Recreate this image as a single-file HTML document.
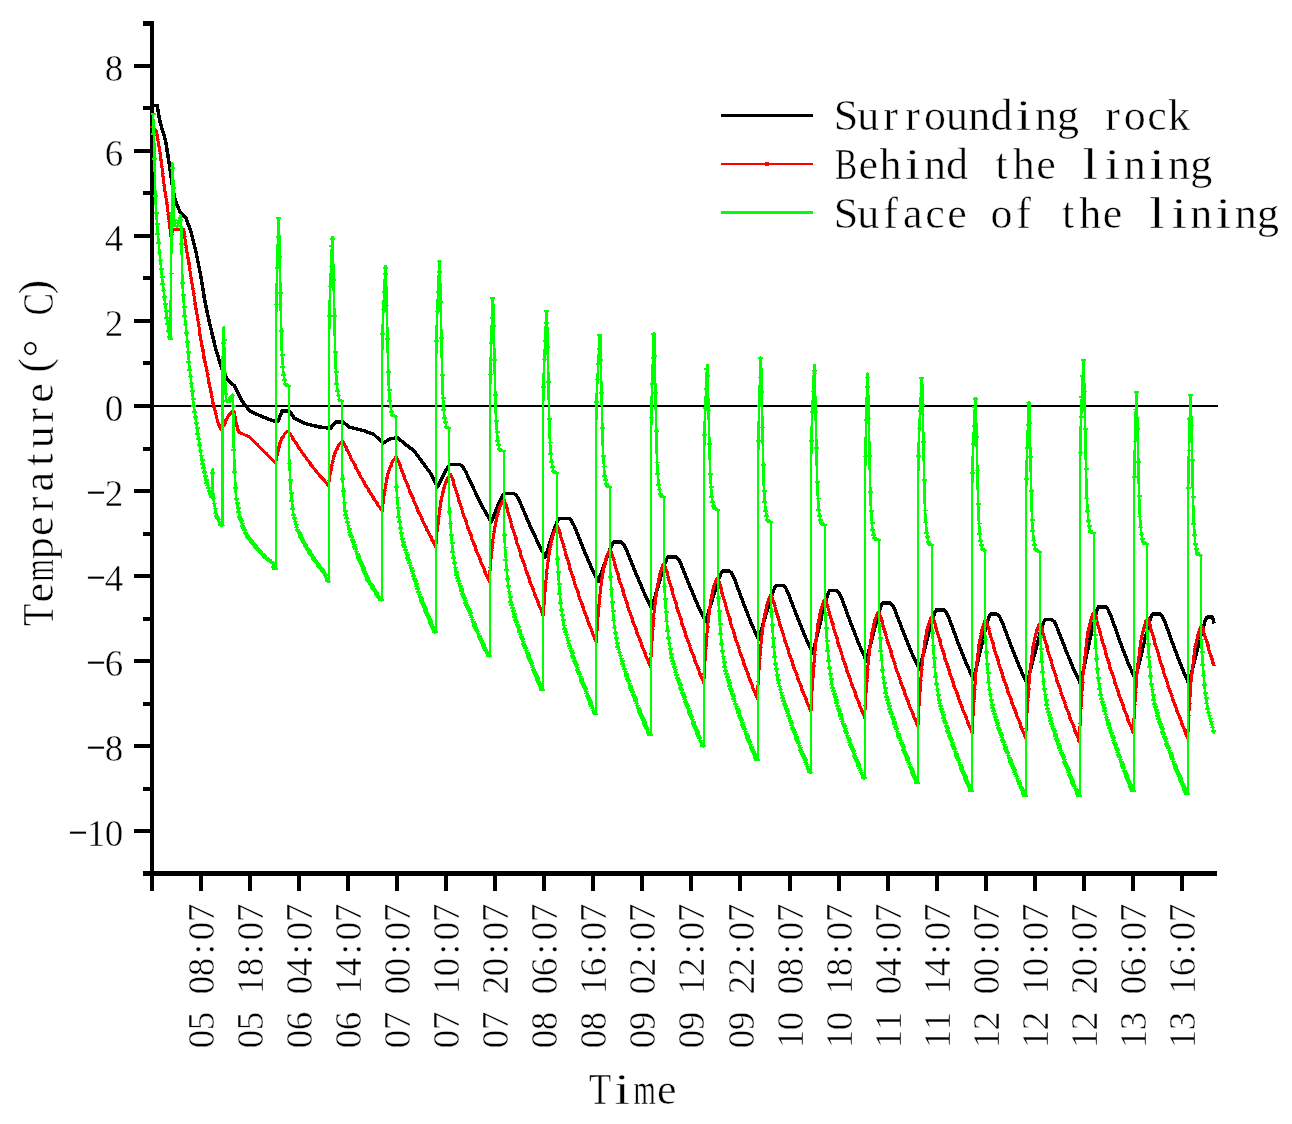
<!DOCTYPE html>
<html><head><meta charset="utf-8"><title>Temperature</title>
<style>html,body{margin:0;padding:0;background:#fff}svg{display:block}text{font-family:"Liberation Serif", serif;fill:#000;stroke:#fff;stroke-width:0.45px}</style></head><body>
<svg width="1292" height="1124" viewBox="0 0 1292 1124">
<rect width="1292" height="1124" fill="#fff"/>
<g shape-rendering="crispEdges">
<rect x="150" y="21" width="4" height="855" fill="#000"/>
<rect x="143" y="871" width="1074" height="5" fill="#000"/>
<rect x="143" y="872" width="8" height="4" fill="#000"/>
<rect x="134" y="829.0" width="17" height="4" fill="#000"/>
<rect x="143" y="787" width="8" height="4" fill="#000"/>
<rect x="134" y="744.0" width="17" height="4" fill="#000"/>
<rect x="143" y="702" width="8" height="4" fill="#000"/>
<rect x="134" y="659.0" width="17" height="4" fill="#000"/>
<rect x="143" y="617" width="8" height="4" fill="#000"/>
<rect x="134" y="574.0" width="17" height="4" fill="#000"/>
<rect x="143" y="532" width="8" height="4" fill="#000"/>
<rect x="134" y="489.0" width="17" height="4" fill="#000"/>
<rect x="143" y="447" width="8" height="4" fill="#000"/>
<rect x="134" y="404.0" width="17" height="4" fill="#000"/>
<rect x="143" y="361" width="8" height="4" fill="#000"/>
<rect x="134" y="319.0" width="17" height="4" fill="#000"/>
<rect x="143" y="276" width="8" height="4" fill="#000"/>
<rect x="134" y="234.0" width="17" height="4" fill="#000"/>
<rect x="143" y="191" width="8" height="4" fill="#000"/>
<rect x="134" y="149.0" width="17" height="4" fill="#000"/>
<rect x="143" y="106" width="8" height="4" fill="#000"/>
<rect x="134" y="64.0" width="17" height="4" fill="#000"/>
<rect x="143" y="21" width="8" height="5" fill="#000"/>
<rect x="150" y="874" width="4" height="17" fill="#000"/>
<rect x="199" y="874" width="4" height="17" fill="#000"/>
<rect x="248" y="874" width="4" height="17" fill="#000"/>
<rect x="297" y="874" width="4" height="17" fill="#000"/>
<rect x="346" y="874" width="4" height="17" fill="#000"/>
<rect x="395" y="874" width="4" height="17" fill="#000"/>
<rect x="444" y="874" width="4" height="17" fill="#000"/>
<rect x="493" y="874" width="4" height="17" fill="#000"/>
<rect x="542" y="874" width="4" height="17" fill="#000"/>
<rect x="591" y="874" width="4" height="17" fill="#000"/>
<rect x="640" y="874" width="4" height="17" fill="#000"/>
<rect x="689" y="874" width="4" height="17" fill="#000"/>
<rect x="738" y="874" width="4" height="17" fill="#000"/>
<rect x="788" y="874" width="4" height="17" fill="#000"/>
<rect x="837" y="874" width="4" height="17" fill="#000"/>
<rect x="886" y="874" width="4" height="17" fill="#000"/>
<rect x="935" y="874" width="4" height="17" fill="#000"/>
<rect x="984" y="874" width="4" height="17" fill="#000"/>
<rect x="1033" y="874" width="4" height="17" fill="#000"/>
<rect x="1082" y="874" width="4" height="17" fill="#000"/>
<rect x="1131" y="874" width="4" height="17" fill="#000"/>
<rect x="1180" y="874" width="4" height="17" fill="#000"/>
<rect x="154" y="405" width="1064" height="2" fill="#000"/>
<polyline fill="none" stroke="#000" stroke-width="3.5" stroke-linejoin="round" points="154.0,105.4 157.2,105.4 160.0,122.0 165.4,140.0 169.4,164.7 173.0,189.6 175.0,199.6 180.0,212.0 186.0,218.0 191.0,232.0 196.0,252.0 201.0,277.0 205.0,302.0 210.0,325.0 216.0,350.0 222.2,369.8 227.2,379.7 234.7,386.0 242.0,401.0 249.6,411.0 262.0,416.6 274.5,421.3 278.2,421.3 282.0,411.0 289.4,411.0 294.4,418.3 304.4,423.3 319.3,427.0 330.5,428.3 335.5,422.0 343.0,422.0 349.2,427.0 364.0,430.8 374.0,434.5 382.8,443.2 390.3,438.8 397.8,437.8 404.0,443.2 414.0,450.7 424.0,464.4 431.4,474.4 437.3,487.0 441.1,479.6 444.9,472.2 447.5,467.7 449.0,465.5 450.0,464.6 460.0,464.6 462.5,466.3 465.6,471.5 469.4,479.6 475.6,492.8 483.4,508.4 491.2,522.2 495.0,512.8 498.9,503.3 501.4,497.6 503.0,494.7 504.0,493.6 514.0,493.6 516.5,495.5 519.6,501.2 523.4,510.1 529.6,524.7 537.5,541.8 545.3,557.0 549.4,544.3 553.5,531.6 556.3,523.9 557.9,520.0 559.0,518.5 569.0,518.5 571.3,520.4 574.3,526.1 577.8,534.9 583.6,549.4 590.9,566.4 598.2,581.5 602.9,568.5 607.7,555.4 610.8,547.5 612.7,543.6 614.0,542.0 621.0,542.0 623.5,544.0 626.5,550.0 630.2,559.3 636.4,574.5 644.0,592.5 651.7,608.4 656.6,591.4 661.5,574.4 664.7,564.1 666.7,559.0 668.0,556.9 675.9,556.9 678.3,558.8 681.3,564.7 684.8,573.7 690.8,588.6 698.2,606.1 705.7,621.6 710.7,604.9 715.8,588.2 719.1,578.1 721.2,573.0 722.5,571.0 729.4,571.0 731.7,573.1 734.6,579.2 738.1,588.8 744.0,604.6 751.2,623.1 758.5,639.6 763.8,621.7 769.1,603.8 772.7,592.9 774.8,587.5 776.2,585.3 783.0,585.3 785.4,587.3 788.4,593.5 791.9,603.0 797.9,618.6 805.3,637.0 812.8,653.3 817.8,632.6 822.8,611.9 826.2,599.3 828.2,593.0 829.5,590.5 836.5,590.5 838.9,592.6 841.9,598.9 845.5,608.8 851.5,624.9 858.9,643.9 866.4,660.8 871.2,641.7 876.1,622.7 879.3,611.1 881.2,605.3 882.5,603.0 890.0,603.0 892.4,605.0 895.3,611.0 898.8,620.3 904.7,635.6 912.0,653.5 919.4,669.5 924.5,649.8 929.6,630.1 933.0,618.2 935.0,612.2 936.4,609.8 943.6,609.8 946.0,611.9 949.0,618.2 952.6,627.9 958.5,644.0 966.0,662.8 973.5,679.5 978.6,658.0 983.6,636.4 987.0,623.3 989.0,616.8 990.4,614.2 997.0,614.2 999.4,616.3 1002.4,622.5 1006.0,632.3 1012.0,648.3 1019.5,667.0 1027.0,683.7 1032.4,662.6 1037.8,641.5 1041.4,628.7 1043.6,622.3 1045.0,619.7 1051.9,619.7 1054.2,621.6 1057.0,627.4 1060.5,636.3 1066.2,651.1 1073.3,668.3 1080.5,683.7 1085.9,658.3 1091.3,632.9 1094.9,617.6 1097.1,609.9 1098.5,606.8 1105.4,606.8 1107.8,609.0 1110.8,615.5 1114.4,625.7 1120.3,642.4 1127.8,662.1 1135.3,679.5 1140.5,657.9 1145.6,636.3 1149.1,623.2 1151.1,616.6 1152.5,614.0 1160.0,614.0 1162.3,616.1 1165.2,622.4 1168.6,632.1 1174.4,648.2 1181.6,667.0 1188.8,683.7 1194.3,661.8 1199.7,639.8 1203.4,626.5 1205.5,619.9 1207.0,617.2 1212.5,617.2 1214.2,623.5"/>
<polyline fill="none" stroke="#f00" stroke-width="3" stroke-linejoin="round" points="152.0,127.0 156.0,130.0 160.0,152.0 163.7,182.0 167.4,207.0 169.5,224.0 171.0,237.0 172.2,232.0 173.7,229.5 183.6,229.5 187.0,252.0 191.0,277.0 195.0,302.0 198.5,324.0 202.0,346.6 206.0,366.5 212.3,399.7 217.2,419.6 219.5,426.5 221.0,429.5 222.2,428.5 224.7,423.3 228.4,415.8 231.0,412.3 233.4,410.9 234.6,414.0 236.0,422.0 238.4,432.0 249.6,437.0 259.6,447.0 269.5,457.0 275.7,463.2 276.7,456.8 278.8,446.9 281.9,438.0 285.1,433.5 286.9,431.8 288.2,431.3 291.6,436.1 294.9,441.6 298.3,446.7 301.7,451.7 305.0,456.5 308.4,461.2 311.8,465.6 315.1,469.9 318.5,473.9 321.9,477.9 325.2,481.8 328.6,485.6 329.7,476.7 332.2,463.0 335.7,450.6 339.2,444.4 341.4,442.0 342.8,441.3 346.1,447.5 349.4,454.5 352.6,461.2 355.9,467.6 359.2,473.8 362.5,479.7 365.8,485.4 369.1,490.9 372.4,496.2 375.6,501.3 378.9,506.3 382.2,511.2 383.4,500.4 385.8,483.6 389.4,468.4 393.0,460.8 395.2,457.8 396.6,457.0 399.9,465.0 403.1,474.0 406.4,482.5 409.7,490.8 412.9,498.7 416.2,506.4 419.5,513.7 422.7,520.8 426.0,527.5 429.3,534.1 432.5,540.5 435.8,546.8 437.0,532.3 439.6,509.9 443.3,489.6 447.1,479.5 449.3,475.5 450.8,474.4 454.0,483.9 457.2,494.6 460.4,504.9 463.6,514.7 466.8,524.2 470.0,533.3 473.2,542.0 476.4,550.4 479.6,558.5 482.8,566.3 486.0,574.0 489.2,581.5 490.4,565.2 492.9,539.8 496.7,517.0 500.4,505.5 502.7,501.0 504.2,499.8 507.5,510.1 510.7,521.7 514.0,532.7 517.2,543.4 520.5,553.6 523.8,563.5 527.0,572.9 530.3,582.0 533.5,590.7 536.8,599.2 540.0,607.4 543.3,615.6 544.5,597.7 546.9,569.9 550.5,544.8 554.1,532.3 556.3,527.3 557.7,526.0 560.9,536.4 564.1,548.0 567.4,559.1 570.6,569.8 573.8,580.2 577.0,590.1 580.2,599.6 583.4,608.7 586.6,617.5 589.9,626.0 593.1,634.3 596.3,642.5 597.4,623.9 599.8,595.2 603.3,569.2 606.9,556.2 609.0,551.1 610.4,549.7 613.7,560.1 617.1,571.9 620.4,583.1 623.8,593.8 627.1,604.2 630.5,614.2 633.8,623.8 637.1,633.0 640.5,641.8 643.8,650.4 647.2,658.7 650.5,667.0 651.6,646.3 653.9,614.3 657.4,585.3 660.8,570.8 662.8,565.2 664.2,563.6 667.5,574.2 670.8,586.2 674.1,597.6 677.4,608.6 680.7,619.2 684.0,629.4 687.3,639.1 690.6,648.5 693.9,657.5 697.2,666.3 700.5,674.8 703.8,683.2 704.9,662.1 707.3,629.4 710.8,599.9 714.2,585.2 716.3,579.4 717.7,577.8 721.0,588.6 724.3,600.7 727.6,612.2 730.9,623.4 734.2,634.1 737.5,644.4 740.8,654.3 744.1,663.8 747.4,672.9 750.7,681.7 754.0,690.4 757.3,698.9 758.4,678.1 760.8,645.8 764.2,616.6 767.7,602.0 769.8,596.3 771.2,594.7 774.5,605.1 777.8,616.8 781.2,628.0 784.5,638.8 787.8,649.1 791.1,659.1 794.4,668.7 797.7,677.8 801.0,686.7 804.4,695.2 807.7,703.6 811.0,711.8 812.1,689.3 814.6,654.4 818.1,622.8 821.7,607.1 823.9,600.9 825.3,599.2 828.6,609.7 831.8,621.6 835.1,632.9 838.4,643.8 841.7,654.2 845.0,664.3 848.2,674.0 851.5,683.3 854.8,692.2 858.0,700.8 861.3,709.3 864.6,717.6 865.7,696.4 868.1,663.6 871.7,633.9 875.2,619.1 877.4,613.3 878.8,611.7 882.1,621.9 885.3,633.4 888.6,644.4 891.8,655.0 895.1,665.2 898.3,675.0 901.6,684.4 904.9,693.4 908.1,702.1 911.4,710.5 914.6,718.7 917.9,726.8 919.1,704.6 921.5,670.3 925.1,639.3 928.8,623.8 930.9,617.7 932.4,616.0 935.7,626.4 939.0,638.1 942.4,649.3 945.7,660.0 949.0,670.4 952.3,680.3 955.6,689.9 958.9,699.1 962.2,707.9 965.6,716.4 968.9,724.8 972.2,733.0 973.3,710.4 975.6,675.5 979.0,643.9 982.5,628.1 984.5,621.9 985.9,620.2 989.2,630.7 992.5,642.5 995.9,653.7 999.2,664.5 1002.5,675.0 1005.8,685.0 1009.1,694.6 1012.4,703.8 1015.8,712.7 1019.1,721.3 1022.4,729.7 1025.7,738.0 1026.8,715.1 1029.3,679.6 1032.8,647.5 1036.4,631.5 1038.6,625.2 1040.0,623.5 1043.3,634.0 1046.5,645.8 1049.8,657.0 1053.1,667.8 1056.4,678.3 1059.7,688.3 1062.9,697.9 1066.2,707.1 1069.5,716.0 1072.8,724.6 1076.0,733.0 1079.3,741.3 1080.5,715.5 1083.0,675.5 1086.8,639.3 1090.5,621.2 1092.7,614.1 1094.2,612.2 1097.5,622.9 1100.7,635.0 1104.0,646.6 1107.2,657.7 1110.5,668.4 1113.8,678.6 1117.0,688.5 1120.3,698.0 1123.5,707.1 1126.8,715.9 1130.0,724.5 1133.3,733.0 1134.5,710.1 1136.9,674.6 1140.5,642.5 1144.2,626.5 1146.3,620.2 1147.8,618.5 1151.1,629.1 1154.4,641.1 1157.8,652.5 1161.1,663.5 1164.4,674.0 1167.7,684.2 1171.0,694.0 1174.3,703.3 1177.6,712.3 1181.0,721.1 1184.3,729.6 1187.6,738.0 1188.7,715.6 1191.1,680.9 1194.7,649.5 1198.2,633.8 1200.4,627.7 1201.8,626.0 1205.1,636.2 1208.3,647.6 1211.6,658.6 1214.2,665.8"/>
<path fill="none" stroke="#f00" stroke-width="1.2" d="M150.1,127.0h3.8M150.9,127.6h3.8M151.7,128.2h3.8M152.6,128.8h3.8M153.4,129.5h3.8M154.2,130.5h3.8M155.0,135.0h3.8M155.8,139.5h3.8M156.6,143.9h3.8M157.5,148.4h3.8M158.3,153.4h3.8M159.1,160.0h3.8M159.9,166.6h3.8M160.7,173.3h3.8M161.5,179.9h3.8M162.4,185.8h3.8M163.2,191.3h3.8M164.0,196.8h3.8M164.8,202.3h3.8M165.6,208.0h3.8M166.4,214.6h3.8M167.3,221.2h3.8M168.1,228.1h3.8M168.9,235.2h3.8M169.7,234.5h3.8M170.5,231.6h3.8M171.3,230.3h3.8M172.2,229.5h3.8M173.0,229.5h3.8M173.8,229.5h3.8M174.6,229.5h3.8M175.4,229.5h3.8M176.2,229.5h3.8M177.1,229.5h3.8M177.9,229.5h3.8M178.7,229.5h3.8M179.5,229.5h3.8M180.3,229.5h3.8M181.1,229.5h3.8M182.0,231.2h3.8M182.8,236.6h3.8M183.6,242.1h3.8M184.4,247.5h3.8M185.2,252.8h3.8M186.0,257.9h3.8M186.9,263.0h3.8M187.7,268.1h3.8M188.5,273.2h3.8M189.3,278.4h3.8M190.1,283.5h3.8M191.0,288.6h3.8M191.8,293.7h3.8M192.6,298.8h3.8M193.4,303.9h3.8M194.2,309.0h3.8M195.0,314.2h3.8M195.9,319.3h3.8M196.7,324.4h3.8M197.5,329.7h3.8M198.3,335.0h3.8M199.1,340.3h3.8M199.9,345.5h3.8M200.8,349.9h3.8M201.6,353.9h3.8M202.4,358.0h3.8M203.2,362.0h3.8M204.0,366.1h3.8M204.8,370.4h3.8M205.7,374.7h3.8M206.5,379.0h3.8M207.3,383.3h3.8M208.1,387.6h3.8M208.9,391.9h3.8M209.7,396.2h3.8M210.6,400.3h3.8M211.4,403.7h3.8M212.2,407.0h3.8M213.0,410.3h3.8M213.8,413.6h3.8M214.6,416.9h3.8M215.5,420.1h3.8M216.3,422.5h3.8M217.1,425.0h3.8M217.9,427.1h3.8M218.7,428.8h3.8M219.5,429.1h3.8M220.4,428.4h3.8M221.2,426.7h3.8M222.0,425.0h3.8M222.8,423.3h3.8M223.6,421.6h3.8M224.4,420.0h3.8M225.3,418.3h3.8M226.1,416.6h3.8M226.9,415.3h3.8M227.7,414.2h3.8M228.5,413.1h3.8M229.3,412.2h3.8M230.2,411.7h3.8M231.0,411.2h3.8M231.8,411.7h3.8M232.6,413.8h3.8M233.4,418.2h3.8M234.3,422.6h3.8M235.1,426.0h3.8M235.9,429.4h3.8M236.7,432.1h3.8M237.5,432.5h3.8M238.3,432.8h3.8M239.2,433.2h3.8M240.0,433.5h3.8M240.8,433.9h3.8M241.6,434.3h3.8M242.4,434.6h3.8M243.2,435.0h3.8M244.1,435.4h3.8M244.9,435.7h3.8M245.7,436.1h3.8M246.5,436.5h3.8M247.3,436.8h3.8M248.1,437.4h3.8M249.0,438.3h3.8M249.8,439.1h3.8M250.6,439.9h3.8M251.4,440.7h3.8M252.2,441.5h3.8M253.0,442.3h3.8M253.9,443.2h3.8M254.7,444.0h3.8M255.5,444.8h3.8M256.3,445.6h3.8M257.1,446.4h3.8M257.9,447.2h3.8M258.8,448.1h3.8M259.6,448.9h3.8M260.4,449.7h3.8M261.2,450.5h3.8M262.0,451.4h3.8M262.8,452.2h3.8M263.7,453.0h3.8M264.5,453.8h3.8M265.3,454.7h3.8M266.1,455.5h3.8M266.9,456.3h3.8M267.7,457.1h3.8M268.6,458.0h3.8M269.4,458.8h3.8M270.2,459.6h3.8M271.0,460.4h3.8M271.8,461.2h3.8M272.7,462.1h3.8M273.5,462.9h3.8M274.3,460.1h3.8M275.1,455.4h3.8M275.9,451.6h3.8M276.7,447.8h3.8M277.6,445.1h3.8M278.4,442.8h3.8M279.2,440.5h3.8M280.0,438.1h3.8M280.8,436.9h3.8M281.6,435.7h3.8M282.5,434.6h3.8M283.3,433.4h3.8M284.1,432.7h3.8M284.9,431.9h3.8M285.7,431.5h3.8M286.5,431.6h3.8M287.4,432.8h3.8M288.2,434.0h3.8M289.0,435.2h3.8M289.8,436.4h3.8M290.6,437.7h3.8M291.4,439.0h3.8M292.3,440.3h3.8M293.1,441.6h3.8M293.9,442.9h3.8M294.7,444.1h3.8M295.5,445.4h3.8M296.3,446.7h3.8M297.2,447.9h3.8M298.0,449.1h3.8M298.8,450.3h3.8M299.6,451.5h3.8M300.4,452.7h3.8M301.2,453.8h3.8M302.1,455.0h3.8M302.9,456.2h3.8M303.7,457.3h3.8M304.5,458.4h3.8M305.3,459.6h3.8M306.1,460.7h3.8M307.0,461.8h3.8M307.8,462.8h3.8M308.6,463.9h3.8M309.4,465.0h3.8M310.2,466.1h3.8M311.0,467.1h3.8M311.9,468.1h3.8M312.7,469.2h3.8M313.5,470.2h3.8M314.3,471.2h3.8M315.1,472.2h3.8M316.0,473.2h3.8M316.8,474.1h3.8M317.6,475.1h3.8M318.4,476.1h3.8M319.2,477.0h3.8M320.0,478.0h3.8M320.9,478.9h3.8M321.7,479.9h3.8M322.5,480.8h3.8M323.3,481.7h3.8M324.1,482.7h3.8M324.9,483.6h3.8M325.8,484.5h3.8M326.6,485.5h3.8M327.4,480.2h3.8M328.2,474.6h3.8M329.0,470.0h3.8M329.8,465.3h3.8M330.7,461.6h3.8M331.5,458.7h3.8M332.3,455.9h3.8M333.1,453.0h3.8M333.9,450.4h3.8M334.7,449.0h3.8M335.6,447.5h3.8M336.4,446.1h3.8M337.2,444.7h3.8M338.0,443.6h3.8M338.8,442.7h3.8M339.6,441.9h3.8M340.5,441.5h3.8M341.3,442.0h3.8M342.1,443.6h3.8M342.9,445.1h3.8M343.7,446.7h3.8M344.5,448.3h3.8M345.4,450.0h3.8M346.2,451.8h3.8M347.0,453.5h3.8M347.8,455.2h3.8M348.6,456.9h3.8M349.4,458.5h3.8M350.3,460.2h3.8M351.1,461.8h3.8M351.9,463.4h3.8M352.7,465.0h3.8M353.5,466.6h3.8M354.4,468.2h3.8M355.2,469.7h3.8M356.0,471.3h3.8M356.8,472.8h3.8M357.6,474.3h3.8M358.4,475.8h3.8M359.3,477.3h3.8M360.1,478.8h3.8M360.9,480.2h3.8M361.7,481.7h3.8M362.5,483.1h3.8M363.3,484.5h3.8M364.2,485.9h3.8M365.0,487.3h3.8M365.8,488.6h3.8M366.6,490.0h3.8M367.4,491.3h3.8M368.2,492.6h3.8M369.1,494.0h3.8M369.9,495.3h3.8M370.7,496.6h3.8M371.5,497.8h3.8M372.3,499.1h3.8M373.1,500.4h3.8M374.0,501.6h3.8M374.8,502.9h3.8M375.6,504.1h3.8M376.4,505.4h3.8M377.2,506.6h3.8M378.0,507.8h3.8M378.9,509.0h3.8M379.7,510.3h3.8M380.5,509.4h3.8M381.3,501.7h3.8M382.1,495.7h3.8M382.9,490.1h3.8M383.8,484.5h3.8M384.6,480.7h3.8M385.4,477.3h3.8M386.2,473.8h3.8M387.0,470.4h3.8M387.8,467.7h3.8M388.7,465.9h3.8M389.5,464.2h3.8M390.3,462.5h3.8M391.1,460.8h3.8M391.9,459.6h3.8M392.7,458.5h3.8M393.6,457.6h3.8M394.4,457.2h3.8M395.2,458.2h3.8M396.0,460.2h3.8M396.8,462.2h3.8M397.7,464.2h3.8M398.5,466.4h3.8M399.3,468.6h3.8M400.1,470.9h3.8M400.9,473.1h3.8M401.7,475.3h3.8M402.6,477.4h3.8M403.4,479.6h3.8M404.2,481.7h3.8M405.0,483.8h3.8M405.8,485.9h3.8M406.6,487.9h3.8M407.5,490.0h3.8M408.3,492.0h3.8M409.1,494.0h3.8M409.9,496.0h3.8M410.7,498.0h3.8M411.5,499.9h3.8M412.4,501.8h3.8M413.2,503.8h3.8M414.0,505.7h3.8M414.8,507.5h3.8M415.6,509.4h3.8M416.4,511.2h3.8M417.3,513.0h3.8M418.1,514.8h3.8M418.9,516.6h3.8M419.7,518.3h3.8M420.5,520.1h3.8M421.3,521.8h3.8M422.2,523.5h3.8M423.0,525.2h3.8M423.8,526.9h3.8M424.6,528.6h3.8M425.4,530.2h3.8M426.2,531.8h3.8M427.1,533.5h3.8M427.9,535.1h3.8M428.7,536.7h3.8M429.5,538.3h3.8M430.3,539.9h3.8M431.1,541.5h3.8M432.0,543.1h3.8M432.8,544.6h3.8M433.6,546.2h3.8M434.4,540.6h3.8M435.2,531.1h3.8M436.1,524.0h3.8M436.9,516.8h3.8M437.7,509.7h3.8M438.5,505.3h3.8M439.3,500.9h3.8M440.1,496.4h3.8M441.0,492.0h3.8M441.8,488.6h3.8M442.6,486.4h3.8M443.4,484.2h3.8M444.2,482.0h3.8M445.0,479.8h3.8M445.9,478.2h3.8M446.7,476.8h3.8M447.5,475.4h3.8M448.3,474.8h3.8M449.1,475.1h3.8M449.9,477.5h3.8M450.8,479.9h3.8M451.6,482.4h3.8M452.4,484.9h3.8M453.2,487.6h3.8M454.0,490.4h3.8M454.8,493.1h3.8M455.7,495.8h3.8M456.5,498.4h3.8M457.3,501.0h3.8M458.1,503.6h3.8M458.9,506.2h3.8M459.7,508.7h3.8M460.6,511.2h3.8M461.4,513.7h3.8M462.2,516.2h3.8M463.0,518.6h3.8M463.8,521.0h3.8M464.6,523.4h3.8M465.5,525.8h3.8M466.3,528.1h3.8M467.1,530.4h3.8M467.9,532.8h3.8M468.7,535.0h3.8M469.5,537.3h3.8M470.4,539.5h3.8M471.2,541.7h3.8M472.0,543.9h3.8M472.8,546.0h3.8M473.6,548.2h3.8M474.4,550.3h3.8M475.3,552.4h3.8M476.1,554.4h3.8M476.9,556.5h3.8M477.7,558.6h3.8M478.5,560.5h3.8M479.4,562.5h3.8M480.2,564.5h3.8M481.0,566.5h3.8M481.8,568.5h3.8M482.6,570.4h3.8M483.4,572.4h3.8M484.3,574.3h3.8M485.1,576.2h3.8M485.9,578.2h3.8M486.7,580.1h3.8M487.5,578.5h3.8M488.3,567.4h3.8M489.2,558.7h3.8M490.0,550.5h3.8M490.8,542.4h3.8M491.6,536.4h3.8M492.4,531.5h3.8M493.2,526.5h3.8M494.1,521.5h3.8M494.9,516.7h3.8M495.7,514.2h3.8M496.5,511.7h3.8M497.3,509.3h3.8M498.1,506.8h3.8M499.0,504.7h3.8M499.8,503.1h3.8M500.6,501.4h3.8M501.4,500.5h3.8M502.2,499.9h3.8M503.0,502.2h3.8M503.9,504.7h3.8M504.7,507.3h3.8M505.5,509.9h3.8M506.3,512.8h3.8M507.1,515.7h3.8M507.9,518.6h3.8M508.8,521.5h3.8M509.6,524.3h3.8M510.4,527.0h3.8M511.2,529.8h3.8M512.0,532.6h3.8M512.8,535.3h3.8M513.7,537.9h3.8M514.5,540.6h3.8M515.3,543.3h3.8M516.1,545.8h3.8M516.9,548.4h3.8M517.8,551.0h3.8M518.6,553.5h3.8M519.4,556.0h3.8M520.2,558.5h3.8M521.0,561.0h3.8M521.8,563.4h3.8M522.7,565.8h3.8M523.5,568.2h3.8M524.3,570.6h3.8M525.1,572.9h3.8M525.9,575.2h3.8M526.7,577.5h3.8M527.6,579.8h3.8M528.4,582.0h3.8M529.2,584.2h3.8M530.0,586.4h3.8M530.8,588.6h3.8M531.6,590.8h3.8M532.5,592.9h3.8M533.3,595.0h3.8M534.1,597.1h3.8M534.9,599.3h3.8M535.7,601.3h3.8M536.5,603.4h3.8M537.4,605.5h3.8M538.2,607.5h3.8M539.0,609.6h3.8M539.8,611.6h3.8M540.6,613.7h3.8M541.4,614.9h3.8M542.3,602.2h3.8M543.1,591.7h3.8M543.9,582.5h3.8M544.7,573.2h3.8M545.5,566.2h3.8M546.3,560.5h3.8M547.2,554.8h3.8M548.0,549.1h3.8M548.8,544.1h3.8M549.6,541.3h3.8M550.4,538.4h3.8M551.2,535.6h3.8M552.1,532.7h3.8M552.9,530.7h3.8M553.7,528.9h3.8M554.5,527.2h3.8M555.3,526.4h3.8M556.1,527.1h3.8M557.0,529.8h3.8M557.8,532.4h3.8M558.6,535.0h3.8M559.4,537.8h3.8M560.2,540.8h3.8M561.1,543.7h3.8M561.9,546.7h3.8M562.7,549.6h3.8M563.5,552.4h3.8M564.3,555.2h3.8M565.1,558.0h3.8M566.0,560.8h3.8M566.8,563.5h3.8M567.6,566.2h3.8M568.4,569.0h3.8M569.2,571.6h3.8M570.0,574.2h3.8M570.9,576.9h3.8M571.7,579.5h3.8M572.5,582.0h3.8M573.3,584.5h3.8M574.1,587.1h3.8M574.9,589.6h3.8M575.8,592.0h3.8M576.6,594.4h3.8M577.4,596.8h3.8M578.2,599.3h3.8M579.0,601.6h3.8M579.8,603.9h3.8M580.7,606.2h3.8M581.5,608.5h3.8M582.3,610.8h3.8M583.1,613.0h3.8M583.9,615.2h3.8M584.7,617.5h3.8M585.6,619.6h3.8M586.4,621.8h3.8M587.2,624.0h3.8M588.0,626.1h3.8M588.8,628.2h3.8M589.6,630.3h3.8M590.5,632.4h3.8M591.3,634.5h3.8M592.1,636.6h3.8M592.9,638.7h3.8M593.7,640.8h3.8M594.5,640.1h3.8M595.4,626.6h3.8M596.2,616.1h3.8M597.0,606.3h3.8M597.8,596.5h3.8M598.6,590.0h3.8M599.5,583.9h3.8M600.3,577.9h3.8M601.1,571.9h3.8M601.9,567.5h3.8M602.7,564.5h3.8M603.5,561.5h3.8M604.4,558.5h3.8M605.2,555.7h3.8M606.0,553.8h3.8M606.8,551.8h3.8M607.6,550.6h3.8M608.4,549.8h3.8M609.3,552.1h3.8M610.1,554.6h3.8M610.9,557.2h3.8M611.7,559.7h3.8M612.5,562.5h3.8M613.3,565.4h3.8M614.2,568.3h3.8M615.0,571.1h3.8M615.8,573.9h3.8M616.6,576.6h3.8M617.4,579.4h3.8M618.2,582.1h3.8M619.1,584.8h3.8M619.9,587.4h3.8M620.7,590.0h3.8M621.5,592.7h3.8M622.3,595.3h3.8M623.1,597.8h3.8M624.0,600.3h3.8M624.8,602.9h3.8M625.6,605.4h3.8M626.4,607.8h3.8M627.2,610.3h3.8M628.0,612.7h3.8M628.9,615.1h3.8M629.7,617.4h3.8M630.5,619.8h3.8M631.3,622.1h3.8M632.1,624.4h3.8M632.9,626.7h3.8M633.8,628.9h3.8M634.6,631.2h3.8M635.4,633.4h3.8M636.2,635.6h3.8M637.0,637.7h3.8M637.8,639.9h3.8M638.7,642.1h3.8M639.5,644.1h3.8M640.3,646.2h3.8M641.1,648.3h3.8M641.9,650.4h3.8M642.8,652.5h3.8M643.6,654.5h3.8M644.4,656.6h3.8M645.2,658.6h3.8M646.0,660.6h3.8M646.8,662.6h3.8M647.7,664.7h3.8M648.5,666.7h3.8M649.3,654.0h3.8M650.1,640.7h3.8M650.9,629.5h3.8M651.7,618.2h3.8M652.6,609.8h3.8M653.4,602.9h3.8M654.2,596.0h3.8M655.0,589.1h3.8M655.8,583.7h3.8M656.6,580.3h3.8M657.5,576.8h3.8M658.3,573.4h3.8M659.1,570.2h3.8M659.9,568.0h3.8M660.7,565.7h3.8M661.5,564.5h3.8M662.4,563.8h3.8M663.2,566.4h3.8M664.0,569.1h3.8M664.8,571.7h3.8M665.6,574.3h3.8M666.4,577.3h3.8M667.3,580.3h3.8M668.1,583.2h3.8M668.9,586.2h3.8M669.7,589.0h3.8M670.5,591.8h3.8M671.3,594.7h3.8M672.2,597.5h3.8M673.0,600.2h3.8M673.8,602.9h3.8M674.6,605.7h3.8M675.4,608.4h3.8M676.2,611.0h3.8M677.1,613.6h3.8M677.9,616.2h3.8M678.7,618.9h3.8M679.5,621.4h3.8M680.3,623.9h3.8M681.2,626.4h3.8M682.0,629.0h3.8M682.8,631.4h3.8M683.6,633.8h3.8M684.4,636.2h3.8M685.2,638.7h3.8M686.1,641.0h3.8M686.9,643.3h3.8M687.7,645.6h3.8M688.5,648.0h3.8M689.3,650.2h3.8M690.1,652.4h3.8M691.0,654.7h3.8M691.8,656.9h3.8M692.6,659.1h3.8M693.4,661.2h3.8M694.2,663.4h3.8M695.0,665.6h3.8M695.9,667.7h3.8M696.7,669.8h3.8M697.5,671.9h3.8M698.3,674.0h3.8M699.1,676.1h3.8M699.9,678.2h3.8M700.8,680.3h3.8M701.6,682.4h3.8M702.4,673.9h3.8M703.2,659.4h3.8M704.0,648.1h3.8M704.8,636.8h3.8M705.7,627.0h3.8M706.5,620.1h3.8M707.3,613.1h3.8M708.1,606.2h3.8M708.9,599.6h3.8M709.7,596.1h3.8M710.6,592.7h3.8M711.4,589.2h3.8M712.2,585.7h3.8M713.0,583.3h3.8M713.8,581.0h3.8M714.6,579.1h3.8M715.5,578.2h3.8M716.3,579.4h3.8M717.1,582.0h3.8M717.9,584.7h3.8M718.7,587.4h3.8M719.5,590.2h3.8M720.4,593.2h3.8M721.2,596.2h3.8M722.0,599.2h3.8M722.8,602.1h3.8M723.6,605.0h3.8M724.5,607.9h3.8M725.3,610.7h3.8M726.1,613.5h3.8M726.9,616.3h3.8M727.7,619.0h3.8M728.5,621.8h3.8M729.4,624.5h3.8M730.2,627.2h3.8M731.0,629.8h3.8M731.8,632.5h3.8M732.6,635.1h3.8M733.4,637.6h3.8M734.3,640.2h3.8M735.1,642.7h3.8M735.9,645.3h3.8M736.7,647.7h3.8M737.5,650.2h3.8M738.3,652.6h3.8M739.2,655.0h3.8M740.0,657.4h3.8M740.8,659.7h3.8M741.6,662.1h3.8M742.4,664.4h3.8M743.2,666.7h3.8M744.1,668.9h3.8M744.9,671.2h3.8M745.7,673.4h3.8M746.5,675.6h3.8M747.3,677.8h3.8M748.1,680.0h3.8M749.0,682.2h3.8M749.8,684.3h3.8M750.6,686.4h3.8M751.4,688.6h3.8M752.2,690.7h3.8M753.0,692.8h3.8M753.9,694.9h3.8M754.7,697.0h3.8M755.5,697.1h3.8M756.3,681.8h3.8M757.1,669.6h3.8M757.9,658.4h3.8M758.8,647.3h3.8M759.6,639.8h3.8M760.4,633.0h3.8M761.2,626.1h3.8M762.0,619.2h3.8M762.9,614.5h3.8M763.7,611.1h3.8M764.5,607.6h3.8M765.3,604.2h3.8M766.1,601.2h3.8M766.9,598.9h3.8M767.8,596.7h3.8M768.6,595.5h3.8M769.4,595.0h3.8M770.2,597.5h3.8M771.0,600.1h3.8M771.8,602.7h3.8M772.7,605.2h3.8M773.5,608.1h3.8M774.3,611.0h3.8M775.1,613.9h3.8M775.9,616.8h3.8M776.7,619.5h3.8M777.6,622.3h3.8M778.4,625.0h3.8M779.2,627.8h3.8M780.0,630.5h3.8M780.8,633.1h3.8M781.6,635.8h3.8M782.5,638.4h3.8M783.3,641.0h3.8M784.1,643.5h3.8M784.9,646.1h3.8M785.7,648.6h3.8M786.5,651.1h3.8M787.4,653.6h3.8M788.2,656.0h3.8M789.0,658.5h3.8M789.8,660.9h3.8M790.6,663.2h3.8M791.4,665.6h3.8M792.3,667.9h3.8M793.1,670.2h3.8M793.9,672.5h3.8M794.7,674.7h3.8M795.5,677.0h3.8M796.3,679.2h3.8M797.2,681.4h3.8M798.0,683.6h3.8M798.8,685.7h3.8M799.6,687.9h3.8M800.4,690.0h3.8M801.2,692.1h3.8M802.1,694.2h3.8M802.9,696.3h3.8M803.7,698.3h3.8M804.5,700.4h3.8M805.3,702.4h3.8M806.2,704.5h3.8M807.0,706.5h3.8M807.8,708.5h3.8M808.6,710.6h3.8M809.4,705.5h3.8M810.2,689.4h3.8M811.1,677.7h3.8M811.9,665.9h3.8M812.7,654.3h3.8M813.5,647.1h3.8M814.3,639.9h3.8M815.1,632.7h3.8M816.0,625.4h3.8M816.8,620.5h3.8M817.6,616.9h3.8M818.4,613.3h3.8M819.2,609.7h3.8M820.0,606.5h3.8M820.9,604.1h3.8M821.7,601.7h3.8M822.5,600.3h3.8M823.3,599.3h3.8M824.1,601.5h3.8M824.9,604.2h3.8M825.8,606.8h3.8M826.6,609.4h3.8M827.4,612.3h3.8M828.2,615.3h3.8M829.0,618.2h3.8M829.8,621.2h3.8M830.7,624.0h3.8M831.5,626.8h3.8M832.3,629.7h3.8M833.1,632.5h3.8M833.9,635.2h3.8M834.7,637.9h3.8M835.6,640.6h3.8M836.4,643.4h3.8M837.2,646.0h3.8M838.0,648.6h3.8M838.8,651.2h3.8M839.6,653.8h3.8M840.5,656.4h3.8M841.3,658.9h3.8M842.1,661.4h3.8M842.9,663.9h3.8M843.7,666.3h3.8M844.6,668.7h3.8M845.4,671.2h3.8M846.2,673.6h3.8M847.0,675.9h3.8M847.8,678.2h3.8M848.6,680.5h3.8M849.5,682.8h3.8M850.3,685.1h3.8M851.1,687.3h3.8M851.9,689.5h3.8M852.7,691.8h3.8M853.5,693.9h3.8M854.4,696.1h3.8M855.2,698.2h3.8M856.0,700.4h3.8M856.8,702.5h3.8M857.6,704.6h3.8M858.4,706.7h3.8M859.3,708.8h3.8M860.1,710.9h3.8M860.9,713.0h3.8M861.7,715.1h3.8M862.5,717.2h3.8M863.3,705.6h3.8M864.2,692.0h3.8M865.0,680.9h3.8M865.8,669.8h3.8M866.6,660.6h3.8M867.4,653.8h3.8M868.2,646.9h3.8M869.1,640.1h3.8M869.9,633.6h3.8M870.7,630.2h3.8M871.5,626.8h3.8M872.3,623.4h3.8M873.1,620.0h3.8M874.0,617.4h3.8M874.8,615.2h3.8M875.6,613.2h3.8M876.4,612.2h3.8M877.2,612.7h3.8M878.0,615.3h3.8M878.9,617.9h3.8M879.7,620.4h3.8M880.5,623.1h3.8M881.3,626.0h3.8M882.1,628.9h3.8M882.9,631.8h3.8M883.8,634.6h3.8M884.6,637.4h3.8M885.4,640.1h3.8M886.2,642.9h3.8M887.0,645.6h3.8M887.9,648.2h3.8M888.7,650.9h3.8M889.5,653.6h3.8M890.3,656.2h3.8M891.1,658.7h3.8M891.9,661.3h3.8M892.8,663.8h3.8M893.6,666.3h3.8M894.4,668.8h3.8M895.2,671.3h3.8M896.0,673.7h3.8M896.8,676.1h3.8M897.7,678.5h3.8M898.5,680.8h3.8M899.3,683.2h3.8M900.1,685.5h3.8M900.9,687.8h3.8M901.7,690.0h3.8M902.6,692.3h3.8M903.4,694.5h3.8M904.2,696.7h3.8M905.0,698.9h3.8M905.8,701.0h3.8M906.6,703.2h3.8M907.5,705.3h3.8M908.3,707.4h3.8M909.1,709.5h3.8M909.9,711.6h3.8M910.7,713.6h3.8M911.5,715.7h3.8M912.4,717.7h3.8M913.2,719.8h3.8M914.0,721.8h3.8M914.8,723.8h3.8M915.6,725.9h3.8M916.4,718.3h3.8M917.3,703.2h3.8M918.1,691.8h3.8M918.9,680.4h3.8M919.7,669.5h3.8M920.5,662.5h3.8M921.3,655.5h3.8M922.2,648.6h3.8M923.0,641.6h3.8M923.8,636.9h3.8M924.6,633.4h3.8M925.4,629.9h3.8M926.3,626.4h3.8M927.1,623.2h3.8M927.9,620.9h3.8M928.7,618.6h3.8M929.5,617.1h3.8M930.3,616.2h3.8M931.2,618.0h3.8M932.0,620.6h3.8M932.8,623.2h3.8M933.6,625.7h3.8M934.4,628.5h3.8M935.2,631.4h3.8M936.1,634.3h3.8M936.9,637.2h3.8M937.7,640.0h3.8M938.5,642.7h3.8M939.3,645.5h3.8M940.1,648.2h3.8M941.0,650.9h3.8M941.8,653.6h3.8M942.6,656.2h3.8M943.4,658.9h3.8M944.2,661.5h3.8M945.0,664.0h3.8M945.9,666.6h3.8M946.7,669.1h3.8M947.5,671.6h3.8M948.3,674.1h3.8M949.1,676.5h3.8M949.9,679.0h3.8M950.8,681.4h3.8M951.6,683.7h3.8M952.4,686.1h3.8M953.2,688.4h3.8M954.0,690.8h3.8M954.8,693.0h3.8M955.7,695.3h3.8M956.5,697.5h3.8M957.3,699.8h3.8M958.1,701.9h3.8M958.9,704.1h3.8M959.7,706.3h3.8M960.6,708.4h3.8M961.4,710.5h3.8M962.2,712.6h3.8M963.0,714.7h3.8M963.8,716.8h3.8M964.6,718.9h3.8M965.5,720.9h3.8M966.3,723.0h3.8M967.1,725.1h3.8M967.9,727.1h3.8M968.7,729.1h3.8M969.6,731.1h3.8M970.4,731.6h3.8M971.2,714.8h3.8M972.0,701.3h3.8M972.8,689.1h3.8M973.6,676.8h3.8M974.5,668.8h3.8M975.3,661.2h3.8M976.1,653.7h3.8M976.9,646.2h3.8M977.7,641.3h3.8M978.5,637.5h3.8M979.4,633.7h3.8M980.2,630.0h3.8M981.0,626.8h3.8M981.8,624.4h3.8M982.6,621.9h3.8M983.4,620.9h3.8M984.3,621.0h3.8M985.1,623.6h3.8M985.9,626.2h3.8M986.7,628.8h3.8M987.5,631.4h3.8M988.3,634.3h3.8M989.2,637.2h3.8M990.0,640.1h3.8M990.8,643.0h3.8M991.6,645.8h3.8M992.4,648.5h3.8M993.2,651.3h3.8M994.1,654.1h3.8M994.9,656.7h3.8M995.7,659.4h3.8M996.5,662.1h3.8M997.3,664.7h3.8M998.1,667.3h3.8M999.0,669.9h3.8M999.8,672.4h3.8M1000.6,675.0h3.8M1001.4,677.5h3.8M1002.2,679.9h3.8M1003.0,682.4h3.8M1003.9,684.9h3.8M1004.7,687.3h3.8M1005.5,689.6h3.8M1006.3,692.0h3.8M1007.1,694.4h3.8M1008.0,696.6h3.8M1008.8,698.9h3.8M1009.6,701.2h3.8M1010.4,703.5h3.8M1011.2,705.7h3.8M1012.0,707.9h3.8M1012.9,710.0h3.8M1013.7,712.2h3.8M1014.5,714.4h3.8M1015.3,716.5h3.8M1016.1,718.6h3.8M1016.9,720.7h3.8M1017.8,722.8h3.8M1018.6,724.9h3.8M1019.4,726.9h3.8M1020.2,729.0h3.8M1021.0,731.1h3.8M1021.8,733.1h3.8M1022.7,735.1h3.8M1023.5,737.2h3.8M1024.3,728.2h3.8M1025.1,712.7h3.8M1025.9,700.8h3.8M1026.7,688.9h3.8M1027.6,678.0h3.8M1028.4,670.6h3.8M1029.2,663.3h3.8M1030.0,656.0h3.8M1030.8,648.7h3.8M1031.6,644.4h3.8M1032.5,640.8h3.8M1033.3,637.1h3.8M1034.1,633.4h3.8M1034.9,630.4h3.8M1035.7,628.0h3.8M1036.5,625.6h3.8M1037.4,624.4h3.8M1038.2,623.8h3.8M1039.0,626.4h3.8M1039.8,629.0h3.8M1040.6,631.6h3.8M1041.4,634.2h3.8M1042.3,637.2h3.8M1043.1,640.1h3.8M1043.9,643.1h3.8M1044.7,646.0h3.8M1045.5,648.8h3.8M1046.3,651.6h3.8M1047.2,654.4h3.8M1048.0,657.2h3.8M1048.8,659.9h3.8M1049.6,662.6h3.8M1050.4,665.3h3.8M1051.3,668.0h3.8M1052.1,670.6h3.8M1052.9,673.2h3.8M1053.7,675.8h3.8M1054.5,678.4h3.8M1055.3,680.9h3.8M1056.2,683.4h3.8M1057.0,685.9h3.8M1057.8,688.4h3.8M1058.6,690.8h3.8M1059.4,693.2h3.8M1060.2,695.6h3.8M1061.1,698.0h3.8M1061.9,700.3h3.8M1062.7,702.6h3.8M1063.5,704.9h3.8M1064.3,707.2h3.8M1065.1,709.4h3.8M1066.0,711.6h3.8M1066.8,713.8h3.8M1067.6,716.1h3.8M1068.4,718.2h3.8M1069.2,720.3h3.8M1070.0,722.5h3.8M1070.9,724.6h3.8M1071.7,726.7h3.8M1072.5,728.8h3.8M1073.3,730.9h3.8M1074.1,733.0h3.8M1074.9,735.1h3.8M1075.8,737.2h3.8M1076.6,739.2h3.8M1077.4,741.3h3.8M1078.2,723.7h3.8M1079.0,708.6h3.8M1079.8,695.7h3.8M1080.7,682.8h3.8M1081.5,672.0h3.8M1082.3,664.1h3.8M1083.1,656.2h3.8M1083.9,648.2h3.8M1084.7,640.3h3.8M1085.6,635.8h3.8M1086.4,631.9h3.8M1087.2,627.9h3.8M1088.0,623.9h3.8M1088.8,620.4h3.8M1089.7,617.8h3.8M1090.5,615.2h3.8M1091.3,613.5h3.8M1092.1,612.5h3.8M1092.9,614.2h3.8M1093.7,616.9h3.8M1094.6,619.6h3.8M1095.4,622.3h3.8M1096.2,625.3h3.8M1097.0,628.3h3.8M1097.8,631.3h3.8M1098.6,634.4h3.8M1099.5,637.3h3.8M1100.3,640.2h3.8M1101.1,643.1h3.8M1101.9,645.9h3.8M1102.7,648.8h3.8M1103.5,651.5h3.8M1104.4,654.3h3.8M1105.2,657.1h3.8M1106.0,659.8h3.8M1106.8,662.5h3.8M1107.6,665.2h3.8M1108.4,667.9h3.8M1109.3,670.5h3.8M1110.1,673.0h3.8M1110.9,675.6h3.8M1111.7,678.2h3.8M1112.5,680.7h3.8M1113.3,683.2h3.8M1114.2,685.6h3.8M1115.0,688.1h3.8M1115.8,690.5h3.8M1116.6,692.9h3.8M1117.4,695.2h3.8M1118.2,697.6h3.8M1119.1,699.9h3.8M1119.9,702.2h3.8M1120.7,704.5h3.8M1121.5,706.8h3.8M1122.3,709.0h3.8M1123.1,711.2h3.8M1124.0,713.4h3.8M1124.8,715.6h3.8M1125.6,717.8h3.8M1126.4,719.9h3.8M1127.2,722.1h3.8M1128.0,724.3h3.8M1128.9,726.4h3.8M1129.7,728.5h3.8M1130.5,730.7h3.8M1131.3,732.8h3.8M1132.1,718.5h3.8M1133.0,704.5h3.8M1133.8,692.7h3.8M1134.6,680.9h3.8M1135.4,671.3h3.8M1136.2,664.0h3.8M1137.0,656.8h3.8M1137.9,649.6h3.8M1138.7,642.5h3.8M1139.5,638.8h3.8M1140.3,635.2h3.8M1141.1,631.6h3.8M1141.9,628.0h3.8M1142.8,625.1h3.8M1143.6,622.8h3.8M1144.4,620.4h3.8M1145.2,619.3h3.8M1146.0,618.9h3.8M1146.8,621.5h3.8M1147.7,624.1h3.8M1148.5,626.7h3.8M1149.3,629.4h3.8M1150.1,632.3h3.8M1150.9,635.3h3.8M1151.7,638.2h3.8M1152.6,641.2h3.8M1153.4,644.0h3.8M1154.2,646.8h3.8M1155.0,649.6h3.8M1155.8,652.4h3.8M1156.6,655.1h3.8M1157.5,657.8h3.8M1158.3,660.5h3.8M1159.1,663.2h3.8M1159.9,665.8h3.8M1160.7,668.4h3.8M1161.5,671.1h3.8M1162.4,673.7h3.8M1163.2,676.2h3.8M1164.0,678.7h3.8M1164.8,681.2h3.8M1165.6,683.7h3.8M1166.4,686.1h3.8M1167.3,688.5h3.8M1168.1,690.9h3.8M1168.9,693.3h3.8M1169.7,695.7h3.8M1170.5,698.0h3.8M1171.4,700.3h3.8M1172.2,702.6h3.8M1173.0,704.8h3.8M1173.8,707.1h3.8M1174.6,709.3h3.8M1175.4,711.5h3.8M1176.3,713.7h3.8M1177.1,715.8h3.8M1177.9,718.0h3.8M1178.7,720.1h3.8M1179.5,722.2h3.8M1180.3,724.3h3.8M1181.2,726.4h3.8M1182.0,728.5h3.8M1182.8,730.6h3.8M1183.6,732.7h3.8M1184.4,734.8h3.8M1185.2,736.8h3.8M1186.1,731.0h3.8M1186.9,715.1h3.8M1187.7,703.3h3.8M1188.5,691.6h3.8M1189.3,680.2h3.8M1190.1,673.0h3.8M1191.0,665.8h3.8M1191.8,658.6h3.8M1192.6,651.4h3.8M1193.4,646.8h3.8M1194.2,643.2h3.8M1195.0,639.6h3.8M1195.9,636.0h3.8M1196.7,632.9h3.8M1197.5,630.5h3.8M1198.3,628.2h3.8M1199.1,626.9h3.8M1199.9,626.1h3.8M1200.8,628.7h3.8M1201.6,631.2h3.8M1202.4,633.8h3.8M1203.2,636.3h3.8M1204.0,639.2h3.8M1204.8,642.0h3.8M1205.7,644.9h3.8M1206.5,647.7h3.8M1207.3,650.5h3.8M1208.1,653.2h3.8M1208.9,655.9h3.8M1209.7,658.6h3.8M1210.6,660.9h3.8M1211.4,663.2h3.8M1212.2,665.5h3.8"/>
<polyline fill="none" stroke="#0f0" stroke-width="2.6" stroke-linejoin="round" points="153.0,114.0 154.5,150.0 155.0,184.7 156.0,209.6 157.5,229.5 159.5,252.0 162.0,277.0 165.0,302.0 168.0,326.7 169.6,339.0 170.6,339.0 171.0,269.0 172.0,200.0 172.4,163.5 173.2,180.0 173.6,194.6 174.4,225.8 177.4,226.5 179.0,221.0 180.4,215.8 181.2,225.0 181.6,244.5 182.4,283.0 184.4,311.7 186.9,336.6 189.3,366.5 191.0,379.7 193.6,404.6 197.3,429.5 201.0,454.5 206.0,479.4 210.5,495.0 212.2,497.0 212.7,469.4 213.3,497.5 216.0,514.0 219.0,521.0 220.5,525.5 222.5,525.5 222.5,365.0 223.8,327.0 224.6,365.0 225.6,392.0 226.2,401.0 228.4,402.0 230.0,399.0 232.7,394.7 233.2,410.0 233.4,437.0 234.7,472.0 236.0,496.8 239.6,516.7 245.9,534.2 254.6,545.4 264.5,556.6 270.0,561.0 273.3,563.5 274.2,568.6 274.7,568.6 276.0,568.6 276.0,322.3 276.9,278.7 278.5,218.3 278.9,218.3 279.6,255.2 280.3,285.4 280.8,310.5 281.7,349.1 283.3,372.6 285.2,383.5 286.5,385.5 289.0,386.0 289.0,454.4 290.7,489.6 293.3,514.2 297.1,528.7 304.6,544.4 314.6,560.0 324.8,573.7 327.7,581.5 329.0,581.5 329.0,338.6 329.9,296.0 332.3,237.0 332.7,237.0 333.4,273.1 334.1,302.6 334.6,327.1 335.5,364.8 337.1,387.8 339.0,398.4 339.5,400.4 342.0,400.9 342.0,470.7 344.7,509.7 349.8,532.2 357.5,554.6 367.7,579.5 380.7,600.2 382.0,600.2 382.0,359.4 382.9,320.2 385.4,266.0 385.8,266.0 386.5,299.1 387.2,326.2 387.7,348.8 388.6,383.5 390.2,404.6 392.1,414.3 393.5,416.1 396.0,416.6 396.0,481.3 398.6,514.7 402.3,539.8 410.1,564.6 420.1,596.9 430.3,621.9 434.7,632.3 436.0,632.3 436.0,364.9 436.9,321.5 439.4,261.4 439.8,261.4 440.5,298.1 441.2,328.2 441.7,353.2 442.6,391.6 444.2,414.9 446.1,425.8 446.5,427.8 449.0,428.3 449.0,503.5 451.1,533.1 453.1,554.8 456.2,573.0 461.4,590.1 467.6,607.2 474.8,625.4 482.0,642.5 488.7,656.2 490.0,656.2 490.0,393.1 490.9,353.2 492.7,297.9 493.1,297.9 493.8,331.7 494.5,359.3 495.0,382.3 495.9,417.6 497.5,439.1 499.4,449.1 501.5,450.9 504.0,451.4 504.0,530.1 506.0,561.1 508.0,583.8 511.0,602.8 516.0,620.7 522.0,638.6 529.1,657.7 536.1,675.6 541.7,689.9 543.0,689.9 543.0,411.5 543.9,369.4 546.5,311.1 546.9,311.1 547.6,346.7 548.3,375.9 548.8,400.1 549.7,437.4 551.3,460.0 553.2,470.6 554.5,472.5 557.0,473.0 557.0,552.5 559.0,583.9 561.0,606.8 564.0,626.0 569.1,644.1 575.1,662.2 582.1,681.5 589.2,699.5 594.7,714.0 596.0,714.0 596.0,429.2 596.9,389.8 599.8,335.3 600.2,335.3 600.9,368.6 601.6,395.9 602.1,418.6 603.0,453.5 604.6,474.7 606.5,484.5 607.5,486.3 610.0,486.8 610.0,568.7 612.1,601.0 614.1,624.6 617.3,644.4 622.4,663.0 628.7,681.6 635.9,701.5 643.2,720.1 649.7,735.0 651.0,735.0 651.0,435.0 651.9,392.5 653.8,333.6 654.2,333.6 654.9,369.6 655.6,399.0 656.1,423.6 657.0,461.2 658.6,484.1 660.5,494.7 661.5,496.7 664.0,497.2 664.0,579.4 666.0,611.7 668.1,635.4 671.2,655.3 676.3,674.0 682.4,692.7 689.6,712.6 696.8,731.3 702.7,746.2 704.0,746.2 704.0,454.8 704.9,417.2 707.1,365.2 707.5,365.2 708.2,397.0 708.9,423.0 709.4,444.7 710.3,477.9 711.9,498.1 713.8,507.5 715.5,509.2 718.0,509.7 718.0,592.2 720.0,624.7 722.0,648.5 725.1,668.5 730.1,687.2 736.2,706.0 743.3,726.0 750.3,744.7 756.7,759.7 758.0,759.7 758.0,459.7 758.9,416.9 760.6,357.7 761.0,357.7 761.7,393.9 762.4,423.5 762.9,448.2 763.8,486.0 765.4,509.0 767.3,519.7 768.5,521.7 771.0,522.2 771.0,604.8 773.1,637.3 775.1,661.1 778.2,681.1 783.3,699.8 789.5,718.6 796.7,738.6 803.8,757.4 809.7,772.4 811.0,772.4 811.0,464.0 811.9,422.5 814.2,364.9 814.6,364.9 815.3,400.1 816.0,428.9 816.5,452.8 817.4,489.6 819.0,512.0 820.9,522.4 822.5,524.3 825.0,524.8 825.0,608.5 827.0,641.4 829.1,665.5 832.1,685.8 837.2,704.8 843.3,723.8 850.5,744.1 857.6,763.1 863.7,778.3 865.0,778.3 865.0,476.8 865.9,433.5 867.4,373.6 867.8,373.6 868.5,410.2 869.2,440.2 869.7,465.1 870.6,503.4 872.2,526.7 874.1,537.5 876.5,539.5 879.0,540.0 879.0,620.2 881.0,651.7 883.0,674.8 886.0,694.2 891.0,712.5 897.0,730.7 904.0,750.1 911.0,768.3 916.7,782.9 918.0,782.9 918.0,481.4 918.9,438.0 921.7,378.0 922.1,378.0 922.8,414.7 923.5,444.7 924.0,469.7 924.9,508.1 926.5,531.5 928.4,542.3 929.5,544.3 932.0,544.8 932.0,626.1 934.0,658.1 936.1,681.5 939.2,701.2 944.3,719.7 950.4,738.1 957.6,757.8 964.8,776.3 970.7,791.1 972.0,791.1 972.0,492.5 972.9,452.8 975.3,397.8 975.7,397.8 976.4,431.4 977.1,458.9 977.6,481.8 978.5,516.9 980.1,538.3 982.0,548.2 982.5,550.0 985.0,550.5 985.0,631.5 987.1,663.4 989.2,686.7 992.3,706.3 997.5,724.7 1003.8,743.1 1011.1,762.8 1018.4,781.2 1024.7,795.9 1026.0,795.9 1026.0,495.0 1026.9,456.2 1028.8,402.5 1029.2,402.5 1029.9,435.3 1030.6,462.2 1031.1,484.6 1032.0,518.9 1033.6,539.8 1035.5,549.5 1037.5,551.2 1040.0,551.7 1040.0,632.3 1042.0,664.0 1044.0,687.2 1047.1,706.8 1052.1,725.1 1058.1,743.4 1065.2,762.9 1072.3,781.2 1078.7,795.9 1080.0,795.9 1080.0,467.2 1080.9,422.2 1083.4,359.9 1083.8,359.9 1084.5,398.0 1085.2,429.1 1085.7,455.1 1086.6,494.9 1088.2,519.2 1090.1,530.4 1091.5,532.5 1094.0,533.0 1094.0,618.2 1096.0,651.7 1098.0,676.2 1101.1,696.9 1106.1,716.3 1112.1,735.6 1119.2,756.3 1126.3,775.6 1132.7,791.1 1134.0,791.1 1134.0,486.3 1134.9,446.7 1136.3,391.8 1136.7,391.8 1137.4,425.3 1138.1,452.8 1138.6,475.6 1139.5,510.7 1141.1,532.0 1143.0,541.9 1144.5,543.7 1147.0,544.2 1147.0,626.7 1149.1,659.2 1151.2,682.9 1154.3,702.9 1159.5,721.6 1165.7,740.4 1173.0,760.4 1180.3,779.1 1186.7,794.1 1188.0,794.1 1188.0,494.4 1188.9,452.7 1190.4,394.8 1190.8,394.8 1191.5,430.2 1192.2,459.1 1192.7,483.2 1193.6,520.1 1195.2,542.6 1197.1,553.1 1198.5,555.0 1201.0,555.5 1201.0,636.0 1203.0,667.7 1205.0,690.9 1208.0,710.4 1213.0,728.7 1214.2,734.3"/>
<path fill="none" stroke="#0f0" stroke-width="1.8" d="M150.5,114.0h5.0M151.3,133.6h5.0M152.1,159.3h5.0M153.0,195.9h5.0M153.8,213.2h5.0M154.6,224.0h5.0M155.4,234.0h5.0M156.2,243.2h5.0M157.0,252.4h5.0M157.9,260.5h5.0M158.7,268.7h5.0M159.5,276.9h5.0M160.3,283.7h5.0M161.1,290.5h5.0M161.9,297.3h5.0M162.8,304.1h5.0M163.6,310.8h5.0M164.4,317.6h5.0M165.2,324.3h5.0M166.0,330.7h5.0M166.8,337.0h5.0M167.7,339.0h5.0M168.5,273.5h5.0M169.3,214.4h5.0M170.1,167.8h5.0M170.9,188.2h5.0M171.7,219.6h5.0M172.6,226.0h5.0M173.4,226.1h5.0M174.2,226.3h5.0M175.0,226.1h5.0M175.8,223.3h5.0M176.6,220.5h5.0M177.5,217.4h5.0M178.3,220.1h5.0M179.1,244.3h5.0M179.9,283.2h5.0M180.7,294.9h5.0M181.5,306.6h5.0M182.4,316.3h5.0M183.2,324.4h5.0M184.0,332.6h5.0M184.8,341.8h5.0M185.6,351.9h5.0M186.4,362.1h5.0M187.3,370.1h5.0M188.1,376.5h5.0M188.9,383.5h5.0M189.7,391.3h5.0M190.5,399.2h5.0M191.4,406.3h5.0M192.2,411.8h5.0M193.0,417.3h5.0M193.8,422.8h5.0M194.6,428.3h5.0M195.4,433.8h5.0M196.3,439.3h5.0M197.1,444.8h5.0M197.9,450.4h5.0M198.7,455.5h5.0M199.5,459.6h5.0M200.3,463.6h5.0M201.2,467.7h5.0M202.0,471.8h5.0M202.8,475.9h5.0M203.6,479.8h5.0M204.4,482.6h5.0M205.2,485.4h5.0M206.1,488.3h5.0M206.9,491.1h5.0M207.7,493.9h5.0M208.5,495.6h5.0M209.3,496.6h5.0M210.1,472.7h5.0M211.0,498.5h5.0M211.8,503.5h5.0M212.6,508.5h5.0M213.4,513.4h5.0M214.2,515.7h5.0M215.0,517.6h5.0M215.9,519.5h5.0M216.7,521.5h5.0M217.5,524.0h5.0M218.3,525.5h5.0M219.1,525.5h5.0M219.9,525.5h5.0M220.8,342.7h5.0M221.6,340.3h5.0M222.4,373.0h5.0M223.2,393.7h5.0M224.0,401.2h5.0M224.8,401.5h5.0M225.7,401.9h5.0M226.5,400.9h5.0M227.3,399.4h5.0M228.1,398.0h5.0M228.9,396.7h5.0M229.7,395.4h5.0M230.6,405.9h5.0M231.4,450.0h5.0M232.2,472.0h5.0M233.0,487.6h5.0M233.8,498.6h5.0M234.7,503.2h5.0M235.5,507.7h5.0M236.3,512.2h5.0M237.1,516.7h5.0M237.9,519.0h5.0M238.7,521.2h5.0M239.6,523.5h5.0M240.4,525.8h5.0M241.2,528.1h5.0M242.0,530.3h5.0M242.8,532.6h5.0M243.6,534.5h5.0M244.5,535.6h5.0M245.3,536.6h5.0M246.1,537.7h5.0M246.9,538.7h5.0M247.7,539.8h5.0M248.5,540.8h5.0M249.4,541.9h5.0M250.2,542.9h5.0M251.0,544.0h5.0M251.8,545.0h5.0M252.6,546.0h5.0M253.4,546.9h5.0M254.3,547.8h5.0M255.1,548.8h5.0M255.9,549.7h5.0M256.7,550.6h5.0M257.5,551.5h5.0M258.3,552.5h5.0M259.2,553.4h5.0M260.0,554.3h5.0M260.8,555.2h5.0M261.6,556.2h5.0M262.4,556.9h5.0M263.2,557.6h5.0M264.1,558.3h5.0M264.9,558.9h5.0M265.7,559.6h5.0M266.5,560.2h5.0M267.3,560.9h5.0M268.1,561.5h5.0M269.0,562.1h5.0M269.8,562.7h5.0M270.6,563.3h5.0M271.4,567.0h5.0M272.2,568.6h5.0M273.1,568.6h5.0M273.9,304.5h5.0M274.7,268.0h5.0M275.5,237.1h5.0M276.3,218.3h5.0M277.1,256.7h5.0M278.0,293.0h5.0M278.8,330.6h5.0M279.6,354.8h5.0M280.4,366.8h5.0M281.2,375.0h5.0M282.0,379.7h5.0M282.9,383.7h5.0M283.7,385.0h5.0M284.5,385.6h5.0M285.3,385.8h5.0M286.1,385.9h5.0M286.9,463.4h5.0M287.8,480.1h5.0M288.6,493.0h5.0M289.4,501.0h5.0M290.2,508.9h5.0M291.0,515.3h5.0M291.8,518.3h5.0M292.7,521.4h5.0M293.5,524.5h5.0M294.3,527.5h5.0M295.1,529.8h5.0M295.9,531.5h5.0M296.7,533.2h5.0M297.6,534.9h5.0M298.4,536.6h5.0M299.2,538.3h5.0M300.0,540.0h5.0M300.8,541.7h5.0M301.6,543.4h5.0M302.5,544.9h5.0M303.3,546.2h5.0M304.1,547.5h5.0M304.9,548.7h5.0M305.7,550.0h5.0M306.5,551.3h5.0M307.4,552.6h5.0M308.2,553.8h5.0M309.0,555.1h5.0M309.8,556.4h5.0M310.6,557.7h5.0M311.4,558.9h5.0M312.3,560.2h5.0M313.1,561.3h5.0M313.9,562.4h5.0M314.7,563.5h5.0M315.5,564.6h5.0M316.4,565.7h5.0M317.2,566.8h5.0M318.0,567.9h5.0M318.8,569.0h5.0M319.6,570.1h5.0M320.4,571.2h5.0M321.3,572.3h5.0M322.1,573.4h5.0M322.9,575.3h5.0M323.7,577.5h5.0M324.5,579.7h5.0M325.3,581.5h5.0M326.2,581.5h5.0M327.0,316.3h5.0M327.8,286.4h5.0M328.6,266.4h5.0M329.4,246.3h5.0M330.2,239.1h5.0M331.1,279.7h5.0M331.9,316.0h5.0M332.7,351.9h5.0M333.5,372.1h5.0M334.3,383.8h5.0M335.1,390.8h5.0M336.0,395.4h5.0M336.8,399.5h5.0M337.6,400.5h5.0M338.4,400.7h5.0M339.2,400.8h5.0M340.0,478.6h5.0M340.9,490.6h5.0M341.7,502.5h5.0M342.5,511.2h5.0M343.3,514.7h5.0M344.1,518.3h5.0M344.9,521.9h5.0M345.8,525.5h5.0M346.6,529.1h5.0M347.4,532.5h5.0M348.2,534.9h5.0M349.0,537.3h5.0M349.8,539.6h5.0M350.7,542.0h5.0M351.5,544.4h5.0M352.3,546.7h5.0M353.1,549.1h5.0M353.9,551.5h5.0M354.8,553.8h5.0M355.6,556.0h5.0M356.4,558.0h5.0M357.2,560.0h5.0M358.0,562.0h5.0M358.8,564.0h5.0M359.7,566.0h5.0M360.5,568.0h5.0M361.3,570.0h5.0M362.1,572.0h5.0M362.9,574.0h5.0M363.7,576.0h5.0M364.6,578.0h5.0M365.4,579.8h5.0M366.2,581.1h5.0M367.0,582.4h5.0M367.8,583.7h5.0M368.6,585.0h5.0M369.5,586.3h5.0M370.3,587.6h5.0M371.1,588.9h5.0M371.9,590.2h5.0M372.7,591.5h5.0M373.5,592.8h5.0M374.4,594.1h5.0M375.2,595.4h5.0M376.0,596.7h5.0M376.8,598.0h5.0M377.6,599.3h5.0M378.4,600.2h5.0M379.3,600.2h5.0M380.1,334.3h5.0M380.9,309.5h5.0M381.7,291.8h5.0M382.5,274.1h5.0M383.3,268.1h5.0M384.2,305.4h5.0M385.0,338.8h5.0M385.8,371.8h5.0M386.6,390.2h5.0M387.4,401.0h5.0M388.2,407.4h5.0M389.1,411.6h5.0M389.9,414.7h5.0M390.7,415.7h5.0M391.5,416.2h5.0M392.3,416.4h5.0M393.1,416.5h5.0M394.0,487.2h5.0M394.8,497.5h5.0M395.6,507.8h5.0M396.4,516.6h5.0M397.2,522.2h5.0M398.1,527.7h5.0M398.9,533.3h5.0M399.7,538.9h5.0M400.5,542.0h5.0M401.3,544.6h5.0M402.1,547.2h5.0M403.0,549.8h5.0M403.8,552.4h5.0M404.6,555.1h5.0M405.4,557.7h5.0M406.2,560.3h5.0M407.0,562.9h5.0M407.9,565.5h5.0M408.7,568.2h5.0M409.5,570.8h5.0M410.3,573.4h5.0M411.1,576.0h5.0M411.9,578.6h5.0M412.8,581.3h5.0M413.6,583.9h5.0M414.4,586.5h5.0M415.2,589.1h5.0M416.0,591.8h5.0M416.8,594.4h5.0M417.7,597.0h5.0M418.5,599.0h5.0M419.3,601.0h5.0M420.1,603.0h5.0M420.9,605.0h5.0M421.7,607.0h5.0M422.6,609.0h5.0M423.4,611.0h5.0M424.2,613.0h5.0M425.0,615.0h5.0M425.8,617.1h5.0M426.6,619.1h5.0M427.5,621.1h5.0M428.3,623.0h5.0M429.1,625.0h5.0M429.9,626.9h5.0M430.7,628.8h5.0M431.5,630.8h5.0M432.4,632.3h5.0M433.2,632.3h5.0M434.0,340.8h5.0M434.8,311.5h5.0M435.6,291.9h5.0M436.5,272.2h5.0M437.3,261.4h5.0M438.1,301.7h5.0M438.9,338.2h5.0M439.7,375.3h5.0M440.5,397.9h5.0M441.4,409.9h5.0M442.2,417.6h5.0M443.0,422.3h5.0M443.8,426.8h5.0M444.6,427.9h5.0M445.4,428.1h5.0M446.3,428.3h5.0M447.1,511.7h5.0M447.9,523.4h5.0M448.7,534.6h5.0M449.5,543.2h5.0M450.3,551.8h5.0M451.2,557.9h5.0M452.0,562.7h5.0M452.8,567.5h5.0M453.6,572.3h5.0M454.4,575.3h5.0M455.2,578.1h5.0M456.1,580.8h5.0M456.9,583.5h5.0M457.7,586.2h5.0M458.5,588.9h5.0M459.3,591.3h5.0M460.1,593.6h5.0M461.0,595.9h5.0M461.8,598.1h5.0M462.6,600.4h5.0M463.4,602.6h5.0M464.2,604.9h5.0M465.0,607.1h5.0M465.9,609.2h5.0M466.7,611.3h5.0M467.5,613.3h5.0M468.3,615.4h5.0M469.1,617.5h5.0M469.9,619.5h5.0M470.8,621.6h5.0M471.6,623.6h5.0M472.4,625.7h5.0M473.2,627.6h5.0M474.0,629.6h5.0M474.8,631.5h5.0M475.7,633.4h5.0M476.5,635.4h5.0M477.3,637.3h5.0M478.1,639.2h5.0M478.9,641.2h5.0M479.8,643.0h5.0M480.6,644.7h5.0M481.4,646.4h5.0M482.2,648.0h5.0M483.0,649.7h5.0M483.8,651.4h5.0M484.7,653.0h5.0M485.5,654.7h5.0M486.3,656.2h5.0M487.1,656.2h5.0M487.9,374.4h5.0M488.7,342.8h5.0M489.6,317.7h5.0M490.4,297.9h5.0M491.2,326.3h5.0M492.0,359.6h5.0M492.8,395.0h5.0M493.6,420.9h5.0M494.5,431.8h5.0M495.3,440.6h5.0M496.1,444.8h5.0M496.9,449.1h5.0M497.7,449.8h5.0M498.5,450.5h5.0M499.4,451.0h5.0M500.2,451.1h5.0M501.0,451.3h5.0M501.8,534.9h5.0M502.6,547.5h5.0M503.4,560.2h5.0M504.3,569.6h5.0M505.1,578.9h5.0M505.9,586.2h5.0M506.7,591.4h5.0M507.5,596.6h5.0M508.3,601.8h5.0M509.2,605.1h5.0M510.0,608.1h5.0M510.8,611.0h5.0M511.6,613.9h5.0M512.4,616.8h5.0M513.2,619.7h5.0M514.1,622.3h5.0M514.9,624.8h5.0M515.7,627.2h5.0M516.5,629.6h5.0M517.3,632.0h5.0M518.2,634.5h5.0M519.0,636.9h5.0M519.8,639.3h5.0M520.6,641.5h5.0M521.4,643.7h5.0M522.2,645.9h5.0M523.1,648.2h5.0M523.9,650.4h5.0M524.7,652.6h5.0M525.5,654.8h5.0M526.3,657.0h5.0M527.1,659.2h5.0M528.0,661.2h5.0M528.8,663.3h5.0M529.6,665.4h5.0M530.4,667.5h5.0M531.2,669.6h5.0M532.0,671.7h5.0M532.9,673.7h5.0M533.7,675.8h5.0M534.5,677.9h5.0M535.3,680.0h5.0M536.1,682.1h5.0M536.9,684.1h5.0M537.8,686.2h5.0M538.6,688.3h5.0M539.4,689.9h5.0M540.2,689.9h5.0M541.0,386.9h5.0M541.8,359.5h5.0M542.7,341.1h5.0M543.5,322.8h5.0M544.3,311.1h5.0M545.1,347.2h5.0M545.9,382.1h5.0M546.7,418.6h5.0M547.6,442.5h5.0M548.4,454.1h5.0M549.2,462.2h5.0M550.0,466.8h5.0M550.8,470.8h5.0M551.6,472.0h5.0M552.5,472.6h5.0M553.3,472.8h5.0M554.1,472.9h5.0M554.9,559.0h5.0M555.7,571.7h5.0M556.5,584.3h5.0M557.4,593.6h5.0M558.2,602.9h5.0M559.0,609.8h5.0M559.8,615.0h5.0M560.6,620.3h5.0M561.5,625.5h5.0M562.3,628.7h5.0M563.1,631.6h5.0M563.9,634.5h5.0M564.7,637.5h5.0M565.5,640.4h5.0M566.4,643.4h5.0M567.2,645.9h5.0M568.0,648.4h5.0M568.8,650.8h5.0M569.6,653.3h5.0M570.4,655.7h5.0M571.3,658.2h5.0M572.1,660.6h5.0M572.9,663.0h5.0M573.7,665.2h5.0M574.5,667.5h5.0M575.3,669.7h5.0M576.2,671.9h5.0M577.0,674.2h5.0M577.8,676.4h5.0M578.6,678.7h5.0M579.4,680.9h5.0M580.2,683.0h5.0M581.1,685.1h5.0M581.9,687.2h5.0M582.7,689.3h5.0M583.5,691.4h5.0M584.3,693.5h5.0M585.1,695.6h5.0M586.0,697.7h5.0M586.8,699.8h5.0M587.6,702.0h5.0M588.4,704.1h5.0M589.2,706.2h5.0M590.0,708.4h5.0M590.9,710.5h5.0M591.7,712.6h5.0M592.5,714.0h5.0M593.3,714.0h5.0M594.1,401.6h5.0M594.9,379.5h5.0M595.8,364.2h5.0M596.6,348.8h5.0M597.4,335.3h5.0M598.2,359.9h5.0M599.0,393.3h5.0M599.9,428.3h5.0M600.7,455.7h5.0M601.5,466.5h5.0M602.3,475.7h5.0M603.1,480.0h5.0M603.9,484.2h5.0M604.8,485.9h5.0M605.6,486.4h5.0M606.4,486.6h5.0M607.2,486.7h5.0M608.0,576.8h5.0M608.8,589.5h5.0M609.7,601.9h5.0M610.5,611.2h5.0M611.3,620.5h5.0M612.1,627.5h5.0M612.9,632.7h5.0M613.7,637.9h5.0M614.6,643.1h5.0M615.4,646.6h5.0M616.2,649.5h5.0M617.0,652.5h5.0M617.8,655.4h5.0M618.6,658.4h5.0M619.5,661.3h5.0M620.3,664.0h5.0M621.1,666.5h5.0M621.9,668.9h5.0M622.7,671.4h5.0M623.5,673.8h5.0M624.4,676.2h5.0M625.2,678.7h5.0M626.0,681.1h5.0M626.8,683.4h5.0M627.6,685.6h5.0M628.4,687.9h5.0M629.3,690.1h5.0M630.1,692.3h5.0M630.9,694.6h5.0M631.7,696.8h5.0M632.5,699.1h5.0M633.3,701.3h5.0M634.2,703.4h5.0M635.0,705.5h5.0M635.8,707.6h5.0M636.6,709.7h5.0M637.4,711.8h5.0M638.2,713.9h5.0M639.1,716.0h5.0M639.9,718.1h5.0M640.7,720.2h5.0M641.5,722.0h5.0M642.3,723.9h5.0M643.2,725.8h5.0M644.0,727.6h5.0M644.8,729.5h5.0M645.6,731.4h5.0M646.4,733.2h5.0M647.2,735.0h5.0M648.1,735.0h5.0M648.9,417.5h5.0M649.7,383.6h5.0M650.5,358.3h5.0M651.3,333.6h5.0M652.1,356.1h5.0M653.0,392.9h5.0M653.8,430.8h5.0M654.6,462.5h5.0M655.4,474.2h5.0M656.2,484.8h5.0M657.0,489.4h5.0M657.9,493.9h5.0M658.7,496.1h5.0M659.5,496.8h5.0M660.3,497.0h5.0M661.1,497.1h5.0M661.9,586.4h5.0M662.8,599.3h5.0M663.6,612.1h5.0M664.4,621.5h5.0M665.2,630.9h5.0M666.0,638.2h5.0M666.8,643.5h5.0M667.7,648.8h5.0M668.5,654.1h5.0M669.3,657.6h5.0M670.1,660.6h5.0M670.9,663.6h5.0M671.7,666.6h5.0M672.6,669.5h5.0M673.4,672.5h5.0M674.2,675.2h5.0M675.0,677.7h5.0M675.8,680.2h5.0M676.6,682.7h5.0M677.5,685.2h5.0M678.3,687.7h5.0M679.1,690.1h5.0M679.9,692.6h5.0M680.7,694.9h5.0M681.6,697.2h5.0M682.4,699.4h5.0M683.2,701.7h5.0M684.0,704.0h5.0M684.8,706.3h5.0M685.6,708.5h5.0M686.5,710.8h5.0M687.3,713.0h5.0M688.1,715.2h5.0M688.9,717.3h5.0M689.7,719.4h5.0M690.5,721.6h5.0M691.4,723.7h5.0M692.2,725.8h5.0M693.0,728.0h5.0M693.8,730.1h5.0M694.6,732.2h5.0M695.4,734.2h5.0M696.3,736.3h5.0M697.1,738.3h5.0M697.9,740.4h5.0M698.7,742.4h5.0M699.5,744.5h5.0M700.3,746.2h5.0M701.2,746.2h5.0M702.0,435.0h5.0M702.8,408.0h5.0M703.6,388.6h5.0M704.4,369.3h5.0M705.2,376.2h5.0M706.1,410.4h5.0M706.9,443.7h5.0M707.7,474.0h5.0M708.5,486.9h5.0M709.3,497.2h5.0M710.1,501.8h5.0M711.0,505.9h5.0M711.8,508.0h5.0M712.6,508.8h5.0M713.4,509.3h5.0M714.2,509.4h5.0M715.0,509.6h5.0M715.9,598.1h5.0M716.7,611.2h5.0M717.5,624.3h5.0M718.3,634.0h5.0M719.1,643.6h5.0M719.9,651.1h5.0M720.8,656.5h5.0M721.6,661.9h5.0M722.4,667.3h5.0M723.2,670.8h5.0M724.0,673.9h5.0M724.9,676.9h5.0M725.7,679.9h5.0M726.5,683.0h5.0M727.3,686.0h5.0M728.1,688.7h5.0M728.9,691.3h5.0M729.8,693.8h5.0M730.6,696.3h5.0M731.4,698.8h5.0M732.2,701.4h5.0M733.0,703.9h5.0M733.8,706.4h5.0M734.7,708.7h5.0M735.5,711.0h5.0M736.3,713.3h5.0M737.1,715.6h5.0M737.9,717.9h5.0M738.7,720.2h5.0M739.6,722.5h5.0M740.4,724.8h5.0M741.2,727.1h5.0M742.0,729.2h5.0M742.8,731.4h5.0M743.6,733.6h5.0M744.5,735.7h5.0M745.3,737.9h5.0M746.1,740.1h5.0M746.9,742.2h5.0M747.7,744.4h5.0M748.5,746.4h5.0M749.4,748.3h5.0M750.2,750.2h5.0M751.0,752.1h5.0M751.8,754.1h5.0M752.6,756.0h5.0M753.4,757.9h5.0M754.3,759.7h5.0M755.1,759.7h5.0M755.9,440.8h5.0M756.7,406.0h5.0M757.5,377.5h5.0M758.3,357.7h5.0M759.2,392.1h5.0M760.0,427.5h5.0M760.8,464.9h5.0M761.6,490.6h5.0M762.4,502.3h5.0M763.3,511.0h5.0M764.1,515.6h5.0M764.9,519.9h5.0M765.7,521.2h5.0M766.5,521.8h5.0M767.3,522.0h5.0M768.2,522.1h5.0M769.0,612.2h5.0M769.8,625.1h5.0M770.6,637.9h5.0M771.4,647.3h5.0M772.2,656.8h5.0M773.1,664.0h5.0M773.9,669.3h5.0M774.7,674.6h5.0M775.5,679.9h5.0M776.3,683.4h5.0M777.1,686.4h5.0M778.0,689.4h5.0M778.8,692.4h5.0M779.6,695.4h5.0M780.4,698.3h5.0M781.2,701.1h5.0M782.0,703.6h5.0M782.9,706.1h5.0M783.7,708.6h5.0M784.5,711.0h5.0M785.3,713.5h5.0M786.1,716.0h5.0M786.9,718.5h5.0M787.8,720.8h5.0M788.6,723.1h5.0M789.4,725.4h5.0M790.2,727.6h5.0M791.0,729.9h5.0M791.8,732.2h5.0M792.7,734.5h5.0M793.5,736.7h5.0M794.3,739.0h5.0M795.1,741.1h5.0M795.9,743.3h5.0M796.7,745.4h5.0M797.6,747.5h5.0M798.4,749.7h5.0M799.2,751.8h5.0M800.0,753.9h5.0M800.8,756.1h5.0M801.6,758.2h5.0M802.5,760.3h5.0M803.3,762.4h5.0M804.1,764.5h5.0M804.9,766.5h5.0M805.7,768.6h5.0M806.6,770.7h5.0M807.4,772.4h5.0M808.2,772.4h5.0M809.0,440.8h5.0M809.8,412.0h5.0M810.6,391.5h5.0M811.5,371.1h5.0M812.3,373.4h5.0M813.1,411.9h5.0M813.9,448.2h5.0M814.7,482.3h5.0M815.5,498.5h5.0M816.4,510.0h5.0M817.2,515.7h5.0M818.0,520.2h5.0M818.8,522.9h5.0M819.6,523.9h5.0M820.4,524.4h5.0M821.3,524.6h5.0M822.1,524.7h5.0M822.9,614.8h5.0M823.7,628.0h5.0M824.5,641.2h5.0M825.3,650.9h5.0M826.2,660.6h5.0M827.0,668.2h5.0M827.8,673.6h5.0M828.6,679.0h5.0M829.4,684.4h5.0M830.2,688.1h5.0M831.1,691.1h5.0M831.9,694.2h5.0M832.7,697.2h5.0M833.5,700.3h5.0M834.3,703.3h5.0M835.1,706.1h5.0M836.0,708.6h5.0M836.8,711.2h5.0M837.6,713.7h5.0M838.4,716.3h5.0M839.2,718.8h5.0M840.0,721.4h5.0M840.9,723.9h5.0M841.7,726.2h5.0M842.5,728.5h5.0M843.3,730.9h5.0M844.1,733.2h5.0M845.0,735.5h5.0M845.8,737.8h5.0M846.6,740.2h5.0M847.4,742.5h5.0M848.2,744.8h5.0M849.0,746.9h5.0M849.9,749.1h5.0M850.7,751.3h5.0M851.5,753.5h5.0M852.3,755.7h5.0M853.1,757.8h5.0M853.9,760.0h5.0M854.8,762.2h5.0M855.6,764.3h5.0M856.4,766.3h5.0M857.2,768.4h5.0M858.0,770.4h5.0M858.8,772.4h5.0M859.7,774.5h5.0M860.5,776.5h5.0M861.3,778.3h5.0M862.1,778.3h5.0M862.9,456.4h5.0M863.7,419.9h5.0M864.6,387.3h5.0M865.4,377.5h5.0M866.2,418.4h5.0M867.0,455.6h5.0M867.8,491.7h5.0M868.6,511.3h5.0M869.5,523.2h5.0M870.3,530.0h5.0M871.1,534.6h5.0M871.9,537.8h5.0M872.7,538.4h5.0M873.5,539.1h5.0M874.4,539.6h5.0M875.2,539.7h5.0M876.0,539.9h5.0M876.8,625.1h5.0M877.6,638.0h5.0M878.4,650.9h5.0M879.3,660.5h5.0M880.1,670.0h5.0M880.9,677.4h5.0M881.7,682.7h5.0M882.5,688.0h5.0M883.3,693.3h5.0M884.2,696.7h5.0M885.0,699.6h5.0M885.8,702.6h5.0M886.6,705.6h5.0M887.4,708.6h5.0M888.3,711.6h5.0M889.1,714.2h5.0M889.9,716.7h5.0M890.7,719.1h5.0M891.5,721.6h5.0M892.3,724.1h5.0M893.2,726.6h5.0M894.0,729.1h5.0M894.8,731.5h5.0M895.6,733.7h5.0M896.4,736.0h5.0M897.2,738.3h5.0M898.1,740.5h5.0M898.9,742.8h5.0M899.7,745.1h5.0M900.5,747.3h5.0M901.3,749.6h5.0M902.1,751.8h5.0M903.0,753.9h5.0M903.8,756.0h5.0M904.6,758.2h5.0M905.4,760.3h5.0M906.2,762.4h5.0M907.0,764.5h5.0M907.9,766.7h5.0M908.7,768.8h5.0M909.5,770.9h5.0M910.3,773.0h5.0M911.1,775.0h5.0M911.9,777.1h5.0M912.8,779.2h5.0M913.6,781.3h5.0M914.4,782.9h5.0M915.2,782.9h5.0M916.0,455.9h5.0M916.8,428.5h5.0M917.7,411.0h5.0M918.5,393.4h5.0M919.3,378.0h5.0M920.1,404.9h5.0M920.9,441.8h5.0M921.7,480.3h5.0M922.6,510.5h5.0M923.4,522.4h5.0M924.2,532.6h5.0M925.0,537.3h5.0M925.8,541.9h5.0M926.7,543.7h5.0M927.5,544.4h5.0M928.3,544.6h5.0M929.1,544.7h5.0M929.9,632.6h5.0M930.7,645.4h5.0M931.6,658.2h5.0M932.4,667.5h5.0M933.2,676.8h5.0M934.0,684.1h5.0M934.8,689.4h5.0M935.6,694.6h5.0M936.5,699.8h5.0M937.3,703.4h5.0M938.1,706.3h5.0M938.9,709.3h5.0M939.7,712.2h5.0M940.5,715.2h5.0M941.4,718.1h5.0M942.2,720.8h5.0M943.0,723.3h5.0M943.8,725.8h5.0M944.6,728.2h5.0M945.4,730.7h5.0M946.3,733.1h5.0M947.1,735.6h5.0M947.9,738.0h5.0M948.7,740.3h5.0M949.5,742.5h5.0M950.3,744.8h5.0M951.2,747.0h5.0M952.0,749.3h5.0M952.8,751.5h5.0M953.6,753.8h5.0M954.4,756.0h5.0M955.2,758.2h5.0M956.1,760.3h5.0M956.9,762.5h5.0M957.7,764.6h5.0M958.5,766.7h5.0M959.3,768.8h5.0M960.1,770.9h5.0M961.0,773.0h5.0M961.8,775.1h5.0M962.6,777.2h5.0M963.4,779.2h5.0M964.2,781.2h5.0M965.0,783.3h5.0M965.9,785.3h5.0M966.7,787.3h5.0M967.5,789.4h5.0M968.3,791.1h5.0M969.1,791.1h5.0M970.0,472.6h5.0M970.8,444.3h5.0M971.6,425.6h5.0M972.4,406.9h5.0M973.2,398.7h5.0M974.0,436.7h5.0M974.9,470.5h5.0M975.7,504.0h5.0M976.5,523.4h5.0M977.3,534.3h5.0M978.1,541.0h5.0M978.9,545.3h5.0M979.8,549.1h5.0M980.6,550.1h5.0M981.4,550.3h5.0M982.2,550.4h5.0M983.0,639.5h5.0M983.8,651.9h5.0M984.7,664.1h5.0M985.5,673.3h5.0M986.3,682.4h5.0M987.1,689.4h5.0M987.9,694.5h5.0M988.7,699.6h5.0M989.6,704.7h5.0M990.4,708.3h5.0M991.2,711.2h5.0M992.0,714.1h5.0M992.8,716.9h5.0M993.6,719.8h5.0M994.5,722.7h5.0M995.3,725.4h5.0M996.1,727.8h5.0M996.9,730.2h5.0M997.7,732.6h5.0M998.5,735.0h5.0M999.4,737.4h5.0M1000.2,739.8h5.0M1001.0,742.2h5.0M1001.8,744.5h5.0M1002.6,746.7h5.0M1003.4,748.9h5.0M1004.3,751.1h5.0M1005.1,753.3h5.0M1005.9,755.5h5.0M1006.7,757.7h5.0M1007.5,759.9h5.0M1008.4,762.1h5.0M1009.2,764.2h5.0M1010.0,766.2h5.0M1010.8,768.3h5.0M1011.6,770.3h5.0M1012.4,772.4h5.0M1013.3,774.4h5.0M1014.1,776.5h5.0M1014.9,778.5h5.0M1015.7,780.6h5.0M1016.5,782.6h5.0M1017.3,784.5h5.0M1018.2,786.4h5.0M1019.0,788.3h5.0M1019.8,790.2h5.0M1020.6,792.2h5.0M1021.4,794.1h5.0M1022.2,795.9h5.0M1023.1,795.9h5.0M1023.9,478.9h5.0M1024.7,448.0h5.0M1025.5,424.9h5.0M1026.3,402.5h5.0M1027.1,423.2h5.0M1028.0,456.7h5.0M1028.8,491.2h5.0M1029.6,520.1h5.0M1030.4,530.7h5.0M1031.2,540.4h5.0M1032.0,544.6h5.0M1032.9,548.7h5.0M1033.7,550.1h5.0M1034.5,550.8h5.0M1035.3,551.3h5.0M1036.1,551.4h5.0M1036.9,551.6h5.0M1037.8,636.4h5.0M1038.6,649.3h5.0M1039.4,662.1h5.0M1040.2,672.1h5.0M1041.0,681.5h5.0M1041.8,689.3h5.0M1042.7,694.5h5.0M1043.5,699.8h5.0M1044.3,705.1h5.0M1045.1,708.8h5.0M1045.9,711.8h5.0M1046.7,714.7h5.0M1047.6,717.7h5.0M1048.4,720.7h5.0M1049.2,723.6h5.0M1050.0,726.4h5.0M1050.8,728.8h5.0M1051.7,731.3h5.0M1052.5,733.8h5.0M1053.3,736.3h5.0M1054.1,738.7h5.0M1054.9,741.2h5.0M1055.7,743.7h5.0M1056.6,745.9h5.0M1057.4,748.2h5.0M1058.2,750.4h5.0M1059.0,752.7h5.0M1059.8,755.0h5.0M1060.6,757.2h5.0M1061.5,759.5h5.0M1062.3,761.8h5.0M1063.1,763.9h5.0M1063.9,766.1h5.0M1064.7,768.2h5.0M1065.5,770.3h5.0M1066.4,772.4h5.0M1067.2,774.6h5.0M1068.0,776.7h5.0M1068.8,778.8h5.0M1069.6,780.9h5.0M1070.4,782.8h5.0M1071.3,784.7h5.0M1072.1,786.5h5.0M1072.9,788.4h5.0M1073.7,790.2h5.0M1074.5,792.1h5.0M1075.3,794.0h5.0M1076.2,795.8h5.0M1077.0,795.9h5.0M1077.8,452.5h5.0M1078.6,416.9h5.0M1079.4,396.6h5.0M1080.2,376.2h5.0M1081.1,359.9h5.0M1081.9,391.5h5.0M1082.7,429.0h5.0M1083.5,469.0h5.0M1084.3,498.4h5.0M1085.1,510.8h5.0M1086.0,520.7h5.0M1086.8,525.6h5.0M1087.6,530.4h5.0M1088.4,531.6h5.0M1089.2,532.5h5.0M1090.1,532.7h5.0M1090.9,532.9h5.0M1091.7,621.2h5.0M1092.5,634.8h5.0M1093.3,648.4h5.0M1094.1,659.3h5.0M1095.0,669.2h5.0M1095.8,677.9h5.0M1096.6,683.4h5.0M1097.4,689.0h5.0M1098.2,694.6h5.0M1099.0,698.7h5.0M1099.9,701.9h5.0M1100.7,705.0h5.0M1101.5,708.2h5.0M1102.3,711.3h5.0M1103.1,714.4h5.0M1103.9,717.4h5.0M1104.8,720.0h5.0M1105.6,722.6h5.0M1106.4,725.2h5.0M1107.2,727.8h5.0M1108.0,730.4h5.0M1108.8,733.0h5.0M1109.7,735.7h5.0M1110.5,738.0h5.0M1111.3,740.4h5.0M1112.1,742.8h5.0M1112.9,745.2h5.0M1113.7,747.6h5.0M1114.6,750.0h5.0M1115.4,752.4h5.0M1116.2,754.8h5.0M1117.0,757.1h5.0M1117.8,759.4h5.0M1118.6,761.6h5.0M1119.5,763.8h5.0M1120.3,766.1h5.0M1121.1,768.3h5.0M1121.9,770.6h5.0M1122.7,772.8h5.0M1123.5,775.0h5.0M1124.4,777.1h5.0M1125.2,779.0h5.0M1126.0,781.0h5.0M1126.8,783.0h5.0M1127.6,784.9h5.0M1128.4,786.9h5.0M1129.3,788.9h5.0M1130.1,790.8h5.0M1130.9,791.1h5.0M1131.7,476.7h5.0M1132.5,441.4h5.0M1133.4,409.4h5.0M1134.2,391.8h5.0M1135.0,428.7h5.0M1135.8,462.0h5.0M1136.6,495.8h5.0M1137.4,516.5h5.0M1138.3,527.4h5.0M1139.1,534.5h5.0M1139.9,538.7h5.0M1140.7,542.2h5.0M1141.5,543.1h5.0M1142.3,543.8h5.0M1143.2,543.9h5.0M1144.0,544.1h5.0M1144.8,631.2h5.0M1145.6,644.0h5.0M1146.4,656.7h5.0M1147.2,666.7h5.0M1148.1,676.0h5.0M1148.9,684.3h5.0M1149.7,689.5h5.0M1150.5,694.8h5.0M1151.3,700.0h5.0M1152.1,704.2h5.0M1153.0,707.2h5.0M1153.8,710.1h5.0M1154.6,713.0h5.0M1155.4,716.0h5.0M1156.2,718.9h5.0M1157.0,721.8h5.0M1157.9,724.3h5.0M1158.7,726.8h5.0M1159.5,729.2h5.0M1160.3,731.7h5.0M1161.1,734.1h5.0M1161.9,736.6h5.0M1162.8,739.0h5.0M1163.6,741.4h5.0M1164.4,743.6h5.0M1165.2,745.9h5.0M1166.0,748.1h5.0M1166.8,750.4h5.0M1167.7,752.6h5.0M1168.5,754.9h5.0M1169.3,757.1h5.0M1170.1,759.3h5.0M1170.9,761.5h5.0M1171.8,763.6h5.0M1172.6,765.7h5.0M1173.4,767.8h5.0M1174.2,769.9h5.0M1175.0,772.0h5.0M1175.8,774.1h5.0M1176.7,776.2h5.0M1177.5,778.3h5.0M1178.3,780.3h5.0M1179.1,782.2h5.0M1179.9,784.1h5.0M1180.7,786.0h5.0M1181.6,787.9h5.0M1182.4,789.8h5.0M1183.2,791.7h5.0M1184.0,793.6h5.0M1184.8,794.1h5.0M1185.6,488.0h5.0M1186.5,450.5h5.0M1187.3,419.0h5.0M1188.1,394.8h5.0M1188.9,425.5h5.0M1189.7,460.2h5.0M1190.5,497.2h5.0M1191.4,523.8h5.0M1192.2,535.3h5.0M1193.0,544.2h5.0M1193.8,548.7h5.0M1194.6,553.1h5.0M1195.4,554.2h5.0M1196.3,555.1h5.0M1197.1,555.2h5.0M1197.9,555.4h5.0M1198.7,639.4h5.0M1199.5,652.3h5.0M1200.3,665.3h5.0M1201.2,675.4h5.0M1202.0,684.9h5.0M1202.8,692.8h5.0M1203.6,698.2h5.0M1204.4,703.5h5.0M1205.2,708.8h5.0M1206.1,712.5h5.0M1206.9,715.5h5.0M1207.7,718.5h5.0M1208.5,721.5h5.0M1209.3,724.5h5.0M1210.1,727.5h5.0M1211.0,730.9h5.0"/>
<rect x="721" y="114" width="92" height="3" fill="#000"/>
<rect x="721" y="163" width="92" height="2" fill="#f00"/><rect x="765" y="162" width="4" height="4" fill="#f00"/>
<rect x="721" y="211" width="92" height="3" fill="#0f0"/>
</g>
<text y="845.5" font-size="37" text-anchor="middle" ><tspan x="78.0" dy="-3.3" textLength="21.6" lengthAdjust="spacingAndGlyphs">-</tspan><tspan x="96.0" dy="3.3">1</tspan><tspan x="114.0">0</tspan></text>
<text y="760.5" font-size="37" text-anchor="middle" ><tspan x="96.0" dy="-3.3" textLength="21.6" lengthAdjust="spacingAndGlyphs">-</tspan><tspan x="114.0" dy="3.3">8</tspan></text>
<text y="675.5" font-size="37" text-anchor="middle" ><tspan x="96.0" dy="-3.3" textLength="21.6" lengthAdjust="spacingAndGlyphs">-</tspan><tspan x="114.0" dy="3.3">6</tspan></text>
<text y="590.5" font-size="37" text-anchor="middle" ><tspan x="96.0" dy="-3.3" textLength="21.6" lengthAdjust="spacingAndGlyphs">-</tspan><tspan x="114.0" dy="3.3">4</tspan></text>
<text y="505.5" font-size="37" text-anchor="middle" ><tspan x="96.0" dy="-3.3" textLength="21.6" lengthAdjust="spacingAndGlyphs">-</tspan><tspan x="114.0" dy="3.3">2</tspan></text>
<text y="420.5" font-size="37" text-anchor="middle" ><tspan x="114.0">0</tspan></text>
<text y="335.5" font-size="37" text-anchor="middle" ><tspan x="114.0">2</tspan></text>
<text y="250.5" font-size="37" text-anchor="middle" ><tspan x="114.0">4</tspan></text>
<text y="165.5" font-size="37" text-anchor="middle" ><tspan x="114.0">6</tspan></text>
<text y="80.5" font-size="37" text-anchor="middle" ><tspan x="114.0">8</tspan></text>
<g transform="translate(214.0,1048) rotate(-90)"><text y="0.0" font-size="37" text-anchor="middle" ><tspan x="9.0 27.0 45.0 63.0 81.0 99.0 117.0 135.0">05 08:07</tspan></text></g>
<g transform="translate(263.1,1048) rotate(-90)"><text y="0.0" font-size="37" text-anchor="middle" ><tspan x="9.0 27.0 45.0 63.0 81.0 99.0 117.0 135.0">05 18:07</tspan></text></g>
<g transform="translate(312.1,1048) rotate(-90)"><text y="0.0" font-size="37" text-anchor="middle" ><tspan x="9.0 27.0 45.0 63.0 81.0 99.0 117.0 135.0">06 04:07</tspan></text></g>
<g transform="translate(361.2,1048) rotate(-90)"><text y="0.0" font-size="37" text-anchor="middle" ><tspan x="9.0 27.0 45.0 63.0 81.0 99.0 117.0 135.0">06 14:07</tspan></text></g>
<g transform="translate(410.2,1048) rotate(-90)"><text y="0.0" font-size="37" text-anchor="middle" ><tspan x="9.0 27.0 45.0 63.0 81.0 99.0 117.0 135.0">07 00:07</tspan></text></g>
<g transform="translate(459.2,1048) rotate(-90)"><text y="0.0" font-size="37" text-anchor="middle" ><tspan x="9.0 27.0 45.0 63.0 81.0 99.0 117.0 135.0">07 10:07</tspan></text></g>
<g transform="translate(508.3,1048) rotate(-90)"><text y="0.0" font-size="37" text-anchor="middle" ><tspan x="9.0 27.0 45.0 63.0 81.0 99.0 117.0 135.0">07 20:07</tspan></text></g>
<g transform="translate(557.3,1048) rotate(-90)"><text y="0.0" font-size="37" text-anchor="middle" ><tspan x="9.0 27.0 45.0 63.0 81.0 99.0 117.0 135.0">08 06:07</tspan></text></g>
<g transform="translate(606.4,1048) rotate(-90)"><text y="0.0" font-size="37" text-anchor="middle" ><tspan x="9.0 27.0 45.0 63.0 81.0 99.0 117.0 135.0">08 16:07</tspan></text></g>
<g transform="translate(655.4,1048) rotate(-90)"><text y="0.0" font-size="37" text-anchor="middle" ><tspan x="9.0 27.0 45.0 63.0 81.0 99.0 117.0 135.0">09 02:07</tspan></text></g>
<g transform="translate(704.4,1048) rotate(-90)"><text y="0.0" font-size="37" text-anchor="middle" ><tspan x="9.0 27.0 45.0 63.0 81.0 99.0 117.0 135.0">09 12:07</tspan></text></g>
<g transform="translate(753.5,1048) rotate(-90)"><text y="0.0" font-size="37" text-anchor="middle" ><tspan x="9.0 27.0 45.0 63.0 81.0 99.0 117.0 135.0">09 22:07</tspan></text></g>
<g transform="translate(802.5,1048) rotate(-90)"><text y="0.0" font-size="37" text-anchor="middle" ><tspan x="9.0 27.0 45.0 63.0 81.0 99.0 117.0 135.0">10 08:07</tspan></text></g>
<g transform="translate(851.6,1048) rotate(-90)"><text y="0.0" font-size="37" text-anchor="middle" ><tspan x="9.0 27.0 45.0 63.0 81.0 99.0 117.0 135.0">10 18:07</tspan></text></g>
<g transform="translate(900.6,1048) rotate(-90)"><text y="0.0" font-size="37" text-anchor="middle" ><tspan x="9.0 27.0 45.0 63.0 81.0 99.0 117.0 135.0">11 04:07</tspan></text></g>
<g transform="translate(949.6,1048) rotate(-90)"><text y="0.0" font-size="37" text-anchor="middle" ><tspan x="9.0 27.0 45.0 63.0 81.0 99.0 117.0 135.0">11 14:07</tspan></text></g>
<g transform="translate(998.7,1048) rotate(-90)"><text y="0.0" font-size="37" text-anchor="middle" ><tspan x="9.0 27.0 45.0 63.0 81.0 99.0 117.0 135.0">12 00:07</tspan></text></g>
<g transform="translate(1047.7,1048) rotate(-90)"><text y="0.0" font-size="37" text-anchor="middle" ><tspan x="9.0 27.0 45.0 63.0 81.0 99.0 117.0 135.0">12 10:07</tspan></text></g>
<g transform="translate(1096.8,1048) rotate(-90)"><text y="0.0" font-size="37" text-anchor="middle" ><tspan x="9.0 27.0 45.0 63.0 81.0 99.0 117.0 135.0">12 20:07</tspan></text></g>
<g transform="translate(1145.8,1048) rotate(-90)"><text y="0.0" font-size="37" text-anchor="middle" ><tspan x="9.0 27.0 45.0 63.0 81.0 99.0 117.0 135.0">13 06:07</tspan></text></g>
<g transform="translate(1194.8,1048) rotate(-90)"><text y="0.0" font-size="37" text-anchor="middle" ><tspan x="9.0 27.0 45.0 63.0 81.0 99.0 117.0 135.0">13 16:07</tspan></text></g>
<text y="1104.2" font-size="44" text-anchor="middle" ><tspan x="600.1" textLength="22.2" lengthAdjust="spacingAndGlyphs">T</tspan><tspan x="622.3" textLength="15.9" lengthAdjust="spacingAndGlyphs">i</tspan><tspan x="644.5" textLength="22.2" lengthAdjust="spacingAndGlyphs">m</tspan><tspan x="666.7">e</tspan></text>
<g transform="translate(52.5,626) rotate(-90)"><text y="0.0" font-size="44" text-anchor="middle" ><tspan x="11.1" textLength="22.2" lengthAdjust="spacingAndGlyphs">T</tspan><tspan x="33.3">e</tspan><tspan x="55.5" textLength="22.2" lengthAdjust="spacingAndGlyphs">m</tspan><tspan x="77.7 99.9 122.1 144.3 166.5 188.7 210.9 233.1">perature</tspan><tspan x="260.6" dy="-4.0">(</tspan><tspan x="277.5" dy="4.0">°</tspan><tspan x="299.7"> </tspan><tspan x="321.9" textLength="22.2" lengthAdjust="spacingAndGlyphs">C</tspan><tspan x="338.8" dy="-4.0">)</tspan></text></g>
<text y="130.4" font-size="44" text-anchor="middle" ><tspan x="846.1 868.3 890.5 912.7 934.9 957.1 979.3 1001.5">Surround</tspan><tspan x="1023.7" textLength="15.9" lengthAdjust="spacingAndGlyphs">i</tspan><tspan x="1045.9 1068.1 1090.3 1112.5 1134.7 1156.9 1179.1">ng rock</tspan></text>
<text y="178.7" font-size="44" text-anchor="middle" ><tspan x="846.1" textLength="22.2" lengthAdjust="spacingAndGlyphs">B</tspan><tspan x="868.3 890.5">eh</tspan><tspan x="912.7" textLength="15.9" lengthAdjust="spacingAndGlyphs">i</tspan><tspan x="934.9 957.1 979.3 1001.5 1023.7 1045.9 1068.1">nd the </tspan><tspan x="1090.3" textLength="15.9" lengthAdjust="spacingAndGlyphs">l</tspan><tspan x="1112.5" textLength="15.9" lengthAdjust="spacingAndGlyphs">i</tspan><tspan x="1134.7">n</tspan><tspan x="1156.9" textLength="15.9" lengthAdjust="spacingAndGlyphs">i</tspan><tspan x="1179.1 1201.3">ng</tspan></text>
<text y="227.5" font-size="44" text-anchor="middle" ><tspan x="846.1 868.3 890.5 912.7 934.9 957.1 979.3 1001.5 1023.7 1045.9 1068.1 1090.3 1112.5 1134.7">Suface of the </tspan><tspan x="1156.9" textLength="15.9" lengthAdjust="spacingAndGlyphs">l</tspan><tspan x="1179.1" textLength="15.9" lengthAdjust="spacingAndGlyphs">i</tspan><tspan x="1201.3">n</tspan><tspan x="1223.5" textLength="15.9" lengthAdjust="spacingAndGlyphs">i</tspan><tspan x="1245.7 1267.9">ng</tspan></text>
</svg></body></html>
